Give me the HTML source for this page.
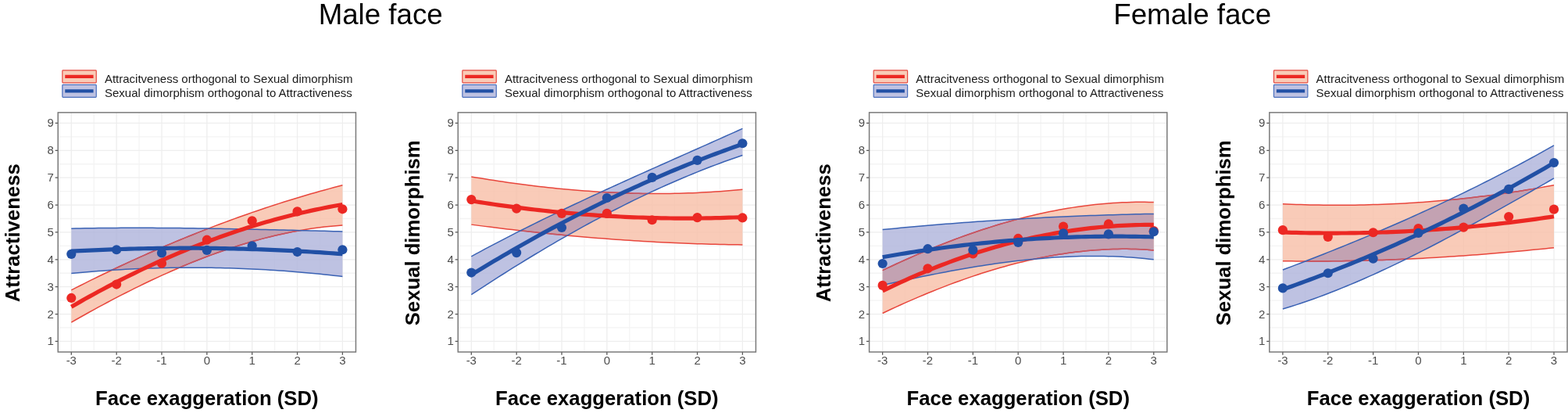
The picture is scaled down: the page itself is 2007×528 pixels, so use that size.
<!DOCTYPE html>
<html><head><meta charset="utf-8"><style>
html,body{margin:0;padding:0;background:#fff;}
body{width:2007px;height:528px;overflow:hidden;}
svg{display:block;filter:blur(0.45px);}
text{font-family:"Liberation Sans", Arial, sans-serif;}
.tk{font-size:15px;fill:#4d4d4d;}
.ax{font-size:25.7px;font-weight:bold;fill:#000;}
.lg{font-size:15px;fill:#1a1a1a;}
.tt{font-size:36.7px;fill:#000;}
</style></head><body>
<svg width="2007" height="528" viewBox="0 0 2007 528">
<rect width="2007" height="528" fill="#fff"/>
<text x="487.2" y="30.9" class="tt" text-anchor="middle">Male face</text>
<text x="1526.2" y="30.7" class="tt" text-anchor="middle">Female face</text>
<path d="M73.95 418.97H455.75M73.95 384.10H455.75M73.95 349.23H455.75M73.95 314.36H455.75M73.95 279.49H455.75M73.95 244.62H455.75M73.95 209.75H455.75M73.95 174.88H455.75M120.23 143.50V450.35M178.08 143.50V450.35M235.93 143.50V450.35M293.77 143.50V450.35M351.62 143.50V450.35M409.47 143.50V450.35" stroke="#f4f4f4" stroke-width="1.3" fill="none"/>
<path d="M73.95 436.40H455.75M73.95 401.53H455.75M73.95 366.66H455.75M73.95 331.79H455.75M73.95 296.93H455.75M73.95 262.06H455.75M73.95 227.19H455.75M73.95 192.32H455.75M73.95 157.45H455.75M91.30 143.50V450.35M149.15 143.50V450.35M207.00 143.50V450.35M264.85 143.50V450.35M322.70 143.50V450.35M380.55 143.50V450.35M438.40 143.50V450.35" stroke="#eeeeee" stroke-width="1.3" fill="none"/>
<clipPath id="cb0"><path d="M91.30 292.16L97.09 292.04L102.87 291.94L108.66 291.84L114.44 291.75L120.23 291.67L126.01 291.60L131.80 291.53L137.58 291.48L143.37 291.43L149.15 291.40L154.94 291.37L160.72 291.34L166.51 291.33L172.29 291.32L178.08 291.32L183.86 291.33L189.65 291.34L195.43 291.36L201.22 291.39L207.00 291.42L212.79 291.46L218.57 291.50L224.36 291.56L230.14 291.61L235.93 291.67L241.71 291.74L247.50 291.81L253.28 291.89L259.07 291.97L264.85 292.06L270.63 292.15L276.42 292.25L282.20 292.35L287.99 292.45L293.77 292.56L299.56 292.67L305.34 292.78L311.13 292.90L316.91 293.02L322.70 293.14L328.48 293.26L334.27 293.39L340.05 293.52L345.84 293.66L351.62 293.79L357.41 293.93L363.19 294.06L368.98 294.20L374.76 294.34L380.55 294.48L386.33 294.63L392.12 294.77L397.90 294.91L403.69 295.06L409.47 295.20L415.26 295.35L421.04 295.49L426.83 295.63L432.61 295.78L438.40 295.92L438.40 353.45L432.61 352.78L426.83 352.13L421.04 351.50L415.26 350.89L409.47 350.30L403.69 349.73L397.90 349.18L392.12 348.65L386.33 348.15L380.55 347.66L374.76 347.19L368.98 346.75L363.19 346.32L357.41 345.92L351.62 345.54L345.84 345.17L340.05 344.83L334.27 344.51L328.48 344.21L322.70 343.92L316.91 343.66L311.13 343.42L305.34 343.20L299.56 343.00L293.77 342.82L287.99 342.67L282.20 342.53L276.42 342.41L270.63 342.31L264.85 342.24L259.07 342.18L253.28 342.15L247.50 342.13L241.71 342.14L235.93 342.16L230.14 342.21L224.36 342.28L218.57 342.37L212.79 342.47L207.00 342.60L201.22 342.75L195.43 342.92L189.65 343.11L183.86 343.32L178.08 343.56L172.29 343.81L166.51 344.08L160.72 344.37L154.94 344.69L149.15 345.02L143.37 345.37L137.58 345.75L131.80 346.14L126.01 346.56L120.23 347.00L114.44 347.45L108.66 347.93L102.87 348.43L97.09 348.95L91.30 349.49Z"/></clipPath>
<path d="M91.30 292.16L97.09 292.04L102.87 291.94L108.66 291.84L114.44 291.75L120.23 291.67L126.01 291.60L131.80 291.53L137.58 291.48L143.37 291.43L149.15 291.40L154.94 291.37L160.72 291.34L166.51 291.33L172.29 291.32L178.08 291.32L183.86 291.33L189.65 291.34L195.43 291.36L201.22 291.39L207.00 291.42L212.79 291.46L218.57 291.50L224.36 291.56L230.14 291.61L235.93 291.67L241.71 291.74L247.50 291.81L253.28 291.89L259.07 291.97L264.85 292.06L270.63 292.15L276.42 292.25L282.20 292.35L287.99 292.45L293.77 292.56L299.56 292.67L305.34 292.78L311.13 292.90L316.91 293.02L322.70 293.14L328.48 293.26L334.27 293.39L340.05 293.52L345.84 293.66L351.62 293.79L357.41 293.93L363.19 294.06L368.98 294.20L374.76 294.34L380.55 294.48L386.33 294.63L392.12 294.77L397.90 294.91L403.69 295.06L409.47 295.20L415.26 295.35L421.04 295.49L426.83 295.63L432.61 295.78L438.40 295.92L438.40 353.45L432.61 352.78L426.83 352.13L421.04 351.50L415.26 350.89L409.47 350.30L403.69 349.73L397.90 349.18L392.12 348.65L386.33 348.15L380.55 347.66L374.76 347.19L368.98 346.75L363.19 346.32L357.41 345.92L351.62 345.54L345.84 345.17L340.05 344.83L334.27 344.51L328.48 344.21L322.70 343.92L316.91 343.66L311.13 343.42L305.34 343.20L299.56 343.00L293.77 342.82L287.99 342.67L282.20 342.53L276.42 342.41L270.63 342.31L264.85 342.24L259.07 342.18L253.28 342.15L247.50 342.13L241.71 342.14L235.93 342.16L230.14 342.21L224.36 342.28L218.57 342.37L212.79 342.47L207.00 342.60L201.22 342.75L195.43 342.92L189.65 343.11L183.86 343.32L178.08 343.56L172.29 343.81L166.51 344.08L160.72 344.37L154.94 344.69L149.15 345.02L143.37 345.37L137.58 345.75L131.80 346.14L126.01 346.56L120.23 347.00L114.44 347.45L108.66 347.93L102.87 348.43L97.09 348.95L91.30 349.49Z" fill="#aeb3db" fill-opacity="0.8"/>
<path d="M91.30 370.81L97.09 367.87L102.87 364.96L108.66 362.07L114.44 359.20L120.23 356.36L126.01 353.54L131.80 350.74L137.58 347.97L143.37 345.22L149.15 342.49L154.94 339.78L160.72 337.10L166.51 334.44L172.29 331.81L178.08 329.19L183.86 326.60L189.65 324.04L195.43 321.50L201.22 318.98L207.00 316.49L212.79 314.01L218.57 311.57L224.36 309.14L230.14 306.75L235.93 304.37L241.71 302.02L247.50 299.69L253.28 297.39L259.07 295.11L264.85 292.86L270.63 290.63L276.42 288.42L282.20 286.24L287.99 284.08L293.77 281.95L299.56 279.84L305.34 277.76L311.13 275.70L316.91 273.67L322.70 271.66L328.48 269.68L334.27 267.72L340.05 265.79L345.84 263.88L351.62 261.99L357.41 260.14L363.19 258.30L368.98 256.50L374.76 254.71L380.55 252.96L386.33 251.23L392.12 249.52L397.90 247.84L403.69 246.18L409.47 244.56L415.26 242.95L421.04 241.38L426.83 239.82L432.61 238.30L438.40 236.80L438.40 288.02L432.61 288.43L426.83 288.91L421.04 289.46L415.26 290.08L409.47 290.77L403.69 291.53L397.90 292.36L392.12 293.25L386.33 294.20L380.55 295.22L374.76 296.31L368.98 297.46L363.19 298.67L357.41 299.94L351.62 301.27L345.84 302.66L340.05 304.12L334.27 305.63L328.48 307.20L322.70 308.82L316.91 310.50L311.13 312.24L305.34 314.04L299.56 315.88L293.77 317.78L287.99 319.74L282.20 321.74L276.42 323.80L270.63 325.90L264.85 328.06L259.07 330.26L253.28 332.52L247.50 334.82L241.71 337.16L235.93 339.55L230.14 341.99L224.36 344.47L218.57 347.00L212.79 349.57L207.00 352.18L201.22 354.83L195.43 357.52L189.65 360.25L183.86 363.02L178.08 365.83L172.29 368.68L166.51 371.56L160.72 374.48L154.94 377.43L149.15 380.42L143.37 383.44L137.58 386.50L131.80 389.59L126.01 392.70L120.23 395.85L114.44 399.03L108.66 402.24L102.87 405.48L97.09 408.74L91.30 412.04Z" fill="#f8bea6" fill-opacity="0.8"/>
<path d="M91.30 370.81L97.09 367.87L102.87 364.96L108.66 362.07L114.44 359.20L120.23 356.36L126.01 353.54L131.80 350.74L137.58 347.97L143.37 345.22L149.15 342.49L154.94 339.78L160.72 337.10L166.51 334.44L172.29 331.81L178.08 329.19L183.86 326.60L189.65 324.04L195.43 321.50L201.22 318.98L207.00 316.49L212.79 314.01L218.57 311.57L224.36 309.14L230.14 306.75L235.93 304.37L241.71 302.02L247.50 299.69L253.28 297.39L259.07 295.11L264.85 292.86L270.63 290.63L276.42 288.42L282.20 286.24L287.99 284.08L293.77 281.95L299.56 279.84L305.34 277.76L311.13 275.70L316.91 273.67L322.70 271.66L328.48 269.68L334.27 267.72L340.05 265.79L345.84 263.88L351.62 261.99L357.41 260.14L363.19 258.30L368.98 256.50L374.76 254.71L380.55 252.96L386.33 251.23L392.12 249.52L397.90 247.84L403.69 246.18L409.47 244.56L415.26 242.95L421.04 241.38L426.83 239.82L432.61 238.30L438.40 236.80L438.40 288.02L432.61 288.43L426.83 288.91L421.04 289.46L415.26 290.08L409.47 290.77L403.69 291.53L397.90 292.36L392.12 293.25L386.33 294.20L380.55 295.22L374.76 296.31L368.98 297.46L363.19 298.67L357.41 299.94L351.62 301.27L345.84 302.66L340.05 304.12L334.27 305.63L328.48 307.20L322.70 308.82L316.91 310.50L311.13 312.24L305.34 314.04L299.56 315.88L293.77 317.78L287.99 319.74L282.20 321.74L276.42 323.80L270.63 325.90L264.85 328.06L259.07 330.26L253.28 332.52L247.50 334.82L241.71 337.16L235.93 339.55L230.14 341.99L224.36 344.47L218.57 347.00L212.79 349.57L207.00 352.18L201.22 354.83L195.43 357.52L189.65 360.25L183.86 363.02L178.08 365.83L172.29 368.68L166.51 371.56L160.72 374.48L154.94 377.43L149.15 380.42L143.37 383.44L137.58 386.50L131.80 389.59L126.01 392.70L120.23 395.85L114.44 399.03L108.66 402.24L102.87 405.48L97.09 408.74L91.30 412.04Z" fill="#b99bb1" fill-opacity="0.8" clip-path="url(#cb0)"/>
<path d="M91.30 370.81L97.09 367.87L102.87 364.96L108.66 362.07L114.44 359.20L120.23 356.36L126.01 353.54L131.80 350.74L137.58 347.97L143.37 345.22L149.15 342.49L154.94 339.78L160.72 337.10L166.51 334.44L172.29 331.81L178.08 329.19L183.86 326.60L189.65 324.04L195.43 321.50L201.22 318.98L207.00 316.49L212.79 314.01L218.57 311.57L224.36 309.14L230.14 306.75L235.93 304.37L241.71 302.02L247.50 299.69L253.28 297.39L259.07 295.11L264.85 292.86L270.63 290.63L276.42 288.42L282.20 286.24L287.99 284.08L293.77 281.95L299.56 279.84L305.34 277.76L311.13 275.70L316.91 273.67L322.70 271.66L328.48 269.68L334.27 267.72L340.05 265.79L345.84 263.88L351.62 261.99L357.41 260.14L363.19 258.30L368.98 256.50L374.76 254.71L380.55 252.96L386.33 251.23L392.12 249.52L397.90 247.84L403.69 246.18L409.47 244.56L415.26 242.95L421.04 241.38L426.83 239.82L432.61 238.30L438.40 236.80M91.30 412.04L97.09 408.74L102.87 405.48L108.66 402.24L114.44 399.03L120.23 395.85L126.01 392.70L131.80 389.59L137.58 386.50L143.37 383.44L149.15 380.42L154.94 377.43L160.72 374.48L166.51 371.56L172.29 368.68L178.08 365.83L183.86 363.02L189.65 360.25L195.43 357.52L201.22 354.83L207.00 352.18L212.79 349.57L218.57 347.00L224.36 344.47L230.14 341.99L235.93 339.55L241.71 337.16L247.50 334.82L253.28 332.52L259.07 330.26L264.85 328.06L270.63 325.90L276.42 323.80L282.20 321.74L287.99 319.74L293.77 317.78L299.56 315.88L305.34 314.04L311.13 312.24L316.91 310.50L322.70 308.82L328.48 307.20L334.27 305.63L340.05 304.12L345.84 302.66L351.62 301.27L357.41 299.94L363.19 298.67L368.98 297.46L374.76 296.31L380.55 295.22L386.33 294.20L392.12 293.25L397.90 292.36L403.69 291.53L409.47 290.77L415.26 290.08L421.04 289.46L426.83 288.91L432.61 288.43L438.40 288.02" stroke="#e8463c" stroke-width="1.5" fill="none"/>
<path d="M91.30 370.81L97.09 367.87L102.87 364.96L108.66 362.07L114.44 359.20L120.23 356.36L126.01 353.54L131.80 350.74L137.58 347.97L143.37 345.22L149.15 342.49L154.94 339.78L160.72 337.10L166.51 334.44L172.29 331.81L178.08 329.19L183.86 326.60L189.65 324.04L195.43 321.50L201.22 318.98L207.00 316.49L212.79 314.01L218.57 311.57L224.36 309.14L230.14 306.75L235.93 304.37L241.71 302.02L247.50 299.69L253.28 297.39L259.07 295.11L264.85 292.86L270.63 290.63L276.42 288.42L282.20 286.24L287.99 284.08L293.77 281.95L299.56 279.84L305.34 277.76L311.13 275.70L316.91 273.67L322.70 271.66L328.48 269.68L334.27 267.72L340.05 265.79L345.84 263.88L351.62 261.99L357.41 260.14L363.19 258.30L368.98 256.50L374.76 254.71L380.55 252.96L386.33 251.23L392.12 249.52L397.90 247.84L403.69 246.18L409.47 244.56L415.26 242.95L421.04 241.38L426.83 239.82L432.61 238.30L438.40 236.80M91.30 412.04L97.09 408.74L102.87 405.48L108.66 402.24L114.44 399.03L120.23 395.85L126.01 392.70L131.80 389.59L137.58 386.50L143.37 383.44L149.15 380.42L154.94 377.43L160.72 374.48L166.51 371.56L172.29 368.68L178.08 365.83L183.86 363.02L189.65 360.25L195.43 357.52L201.22 354.83L207.00 352.18L212.79 349.57L218.57 347.00L224.36 344.47L230.14 341.99L235.93 339.55L241.71 337.16L247.50 334.82L253.28 332.52L259.07 330.26L264.85 328.06L270.63 325.90L276.42 323.80L282.20 321.74L287.99 319.74L293.77 317.78L299.56 315.88L305.34 314.04L311.13 312.24L316.91 310.50L322.70 308.82L328.48 307.20L334.27 305.63L340.05 304.12L345.84 302.66L351.62 301.27L357.41 299.94L363.19 298.67L368.98 297.46L374.76 296.31L380.55 295.22L386.33 294.20L392.12 293.25L397.90 292.36L403.69 291.53L409.47 290.77L415.26 290.08L421.04 289.46L426.83 288.91L432.61 288.43L438.40 288.02" stroke="#c25666" stroke-width="1.5" fill="none" clip-path="url(#cb0)"/>
<path d="M91.30 292.16L97.09 292.04L102.87 291.94L108.66 291.84L114.44 291.75L120.23 291.67L126.01 291.60L131.80 291.53L137.58 291.48L143.37 291.43L149.15 291.40L154.94 291.37L160.72 291.34L166.51 291.33L172.29 291.32L178.08 291.32L183.86 291.33L189.65 291.34L195.43 291.36L201.22 291.39L207.00 291.42L212.79 291.46L218.57 291.50L224.36 291.56L230.14 291.61L235.93 291.67L241.71 291.74L247.50 291.81L253.28 291.89L259.07 291.97L264.85 292.06L270.63 292.15L276.42 292.25L282.20 292.35L287.99 292.45L293.77 292.56L299.56 292.67L305.34 292.78L311.13 292.90L316.91 293.02L322.70 293.14L328.48 293.26L334.27 293.39L340.05 293.52L345.84 293.66L351.62 293.79L357.41 293.93L363.19 294.06L368.98 294.20L374.76 294.34L380.55 294.48L386.33 294.63L392.12 294.77L397.90 294.91L403.69 295.06L409.47 295.20L415.26 295.35L421.04 295.49L426.83 295.63L432.61 295.78L438.40 295.92M91.30 349.49L97.09 348.95L102.87 348.43L108.66 347.93L114.44 347.45L120.23 347.00L126.01 346.56L131.80 346.14L137.58 345.75L143.37 345.37L149.15 345.02L154.94 344.69L160.72 344.37L166.51 344.08L172.29 343.81L178.08 343.56L183.86 343.32L189.65 343.11L195.43 342.92L201.22 342.75L207.00 342.60L212.79 342.47L218.57 342.37L224.36 342.28L230.14 342.21L235.93 342.16L241.71 342.14L247.50 342.13L253.28 342.15L259.07 342.18L264.85 342.24L270.63 342.31L276.42 342.41L282.20 342.53L287.99 342.67L293.77 342.82L299.56 343.00L305.34 343.20L311.13 343.42L316.91 343.66L322.70 343.92L328.48 344.21L334.27 344.51L340.05 344.83L345.84 345.17L351.62 345.54L357.41 345.92L363.19 346.32L368.98 346.75L374.76 347.19L380.55 347.66L386.33 348.15L392.12 348.65L397.90 349.18L403.69 349.73L409.47 350.30L415.26 350.89L421.04 351.50L426.83 352.13L432.61 352.78L438.40 353.45" stroke="#3a62b4" stroke-width="1.5" fill="none"/>
<path d="M91.30 392.28L97.09 388.93L102.87 385.63L108.66 382.36L114.44 379.14L120.23 375.95L126.01 372.80L131.80 369.70L137.58 366.63L143.37 363.60L149.15 360.61L154.94 357.66L160.72 354.75L166.51 351.88L172.29 349.05L178.08 346.26L183.86 343.51L189.65 340.79L195.43 338.12L201.22 335.48L207.00 332.89L212.79 330.33L218.57 327.82L224.36 325.34L230.14 322.91L235.93 320.51L241.71 318.15L247.50 315.83L253.28 313.55L259.07 311.31L264.85 309.11L270.63 306.95L276.42 304.83L282.20 302.75L287.99 300.71L293.77 298.70L299.56 296.74L305.34 294.81L311.13 292.93L316.91 291.08L322.70 289.28L328.48 287.51L334.27 285.79L340.05 284.10L345.84 282.45L351.62 280.84L357.41 279.27L363.19 277.74L368.98 276.25L374.76 274.80L380.55 273.39L386.33 272.02L392.12 270.68L397.90 269.39L403.69 268.14L409.47 266.92L415.26 265.75L421.04 264.61L426.83 263.52L432.61 262.46L438.40 261.44" stroke="#ec2823" stroke-width="5.2" fill="none"/>
<circle cx="91.30" cy="380.96" r="6.1" fill="#ec2823"/>
<circle cx="149.15" cy="363.53" r="6.1" fill="#ec2823"/>
<circle cx="207.00" cy="336.68" r="6.1" fill="#ec2823"/>
<circle cx="264.85" cy="306.69" r="6.1" fill="#ec2823"/>
<circle cx="322.70" cy="282.28" r="6.1" fill="#ec2823"/>
<circle cx="380.55" cy="270.42" r="6.1" fill="#ec2823"/>
<circle cx="438.40" cy="267.29" r="6.1" fill="#ec2823"/>
<path d="M91.30 321.22L97.09 320.91L102.87 320.61L108.66 320.32L114.44 320.05L120.23 319.79L126.01 319.54L131.80 319.30L137.58 319.08L143.37 318.87L149.15 318.67L154.94 318.48L160.72 318.31L166.51 318.15L172.29 318.00L178.08 317.86L183.86 317.74L189.65 317.63L195.43 317.53L201.22 317.45L207.00 317.37L212.79 317.31L218.57 317.26L224.36 317.23L230.14 317.21L235.93 317.20L241.71 317.20L247.50 317.21L253.28 317.24L259.07 317.28L264.85 317.33L270.63 317.40L276.42 317.47L282.20 317.56L287.99 317.67L293.77 317.78L299.56 317.91L305.34 318.05L311.13 318.20L316.91 318.37L322.70 318.54L328.48 318.73L334.27 318.94L340.05 319.15L345.84 319.38L351.62 319.62L357.41 319.87L363.19 320.14L368.98 320.42L374.76 320.71L380.55 321.01L386.33 321.33L392.12 321.65L397.90 321.99L403.69 322.35L409.47 322.71L415.26 323.09L421.04 323.48L426.83 323.88L432.61 324.30L438.40 324.73" stroke="#2150a5" stroke-width="5.2" fill="none"/>
<circle cx="91.30" cy="324.82" r="6.1" fill="#2150a5"/>
<circle cx="149.15" cy="319.24" r="6.1" fill="#2150a5"/>
<circle cx="207.00" cy="323.43" r="6.1" fill="#2150a5"/>
<circle cx="264.85" cy="319.94" r="6.1" fill="#2150a5"/>
<circle cx="322.70" cy="314.36" r="6.1" fill="#2150a5"/>
<circle cx="380.55" cy="322.03" r="6.1" fill="#2150a5"/>
<circle cx="438.40" cy="319.24" r="6.1" fill="#2150a5"/>
<rect x="74.25" y="143.85" width="381.20" height="306.15" fill="none" stroke="#7a7a7a" stroke-width="1.5"/>
<path d="M70.65 436.40H73.95M70.65 401.53H73.95M70.65 366.66H73.95M70.65 331.79H73.95M70.65 296.93H73.95M70.65 262.06H73.95M70.65 227.19H73.95M70.65 192.32H73.95M70.65 157.45H73.95M91.30 450.35V453.65M149.15 450.35V453.65M207.00 450.35V453.65M264.85 450.35V453.65M322.70 450.35V453.65M380.55 450.35V453.65M438.40 450.35V453.65" stroke="#555" stroke-width="1.3" fill="none"/>
<text x="68.75" y="441.40" class="tk" text-anchor="end">1</text>
<text x="68.75" y="406.53" class="tk" text-anchor="end">2</text>
<text x="68.75" y="371.66" class="tk" text-anchor="end">3</text>
<text x="68.75" y="336.79" class="tk" text-anchor="end">4</text>
<text x="68.75" y="301.93" class="tk" text-anchor="end">5</text>
<text x="68.75" y="267.06" class="tk" text-anchor="end">6</text>
<text x="68.75" y="232.19" class="tk" text-anchor="end">7</text>
<text x="68.75" y="197.32" class="tk" text-anchor="end">8</text>
<text x="68.75" y="162.45" class="tk" text-anchor="end">9</text>
<text x="91.30" y="466.2" class="tk" text-anchor="middle">-3</text>
<text x="149.15" y="466.2" class="tk" text-anchor="middle">-2</text>
<text x="207.00" y="466.2" class="tk" text-anchor="middle">-1</text>
<text x="264.85" y="466.2" class="tk" text-anchor="middle">0</text>
<text x="322.70" y="466.2" class="tk" text-anchor="middle">1</text>
<text x="380.55" y="466.2" class="tk" text-anchor="middle">2</text>
<text x="438.40" y="466.2" class="tk" text-anchor="middle">3</text>
<text x="264.85" y="518.2" class="ax" text-anchor="middle">Face exaggeration (SD)</text>
<text transform="translate(24.55 297.82) rotate(-90)" class="ax" text-anchor="middle">Attractiveness</text>
<rect x="79.85" y="89.90" width="43.4" height="16.0" fill="#f9cbb7" stroke="#e64a40" stroke-width="1.2" rx="0.8"/>
<path d="M83.25 97.90H119.55" stroke="#ec2823" stroke-width="4.2"/>
<text x="133.95" y="105.60" class="lg">Attracitveness orthogonal to Sexual dimorphism</text>
<rect x="79.85" y="108.40" width="43.4" height="16.0" fill="#bec2e2" stroke="#4a6fbd" stroke-width="1.2" rx="0.8"/>
<path d="M83.25 116.40H119.55" stroke="#2150a5" stroke-width="4.2"/>
<text x="133.95" y="124.30" class="lg">Sexual dimorphism orthogonal to Attractiveness</text>
<path d="M585.95 418.97H967.75M585.95 384.10H967.75M585.95 349.23H967.75M585.95 314.36H967.75M585.95 279.49H967.75M585.95 244.62H967.75M585.95 209.75H967.75M585.95 174.88H967.75M632.23 143.50V450.35M690.08 143.50V450.35M747.93 143.50V450.35M805.77 143.50V450.35M863.62 143.50V450.35M921.47 143.50V450.35" stroke="#f4f4f4" stroke-width="1.3" fill="none"/>
<path d="M585.95 436.40H967.75M585.95 401.53H967.75M585.95 366.66H967.75M585.95 331.79H967.75M585.95 296.93H967.75M585.95 262.06H967.75M585.95 227.19H967.75M585.95 192.32H967.75M585.95 157.45H967.75M603.30 143.50V450.35M661.15 143.50V450.35M719.00 143.50V450.35M776.85 143.50V450.35M834.70 143.50V450.35M892.55 143.50V450.35M950.40 143.50V450.35" stroke="#eeeeee" stroke-width="1.3" fill="none"/>
<clipPath id="cb1"><path d="M603.30 327.79L609.09 324.65L614.87 321.54L620.66 318.45L626.44 315.38L632.23 312.33L638.01 309.31L643.80 306.31L649.58 303.32L655.37 300.36L661.15 297.42L666.94 294.50L672.72 291.60L678.51 288.72L684.29 285.85L690.08 283.00L695.86 280.17L701.65 277.36L707.43 274.56L713.22 271.77L719.00 269.00L724.79 266.25L730.57 263.51L736.36 260.78L742.14 258.07L747.93 255.36L753.71 252.67L759.50 249.99L765.28 247.32L771.07 244.66L776.85 242.01L782.63 239.37L788.42 236.74L794.20 234.12L799.99 231.50L805.77 228.89L811.56 226.29L817.34 223.69L823.13 221.10L828.91 218.51L834.70 215.93L840.48 213.35L846.27 210.77L852.05 208.20L857.84 205.63L863.62 203.06L869.41 200.49L875.19 197.93L880.98 195.36L886.76 192.79L892.55 190.22L898.33 187.66L904.12 185.08L909.90 182.51L915.69 179.93L921.47 177.35L927.26 174.77L933.04 172.18L938.83 169.59L944.61 166.99L950.40 164.38L950.40 198.49L944.61 200.45L938.83 202.45L933.04 204.49L927.26 206.57L921.47 208.69L915.69 210.84L909.90 213.04L904.12 215.27L898.33 217.54L892.55 219.85L886.76 222.19L880.98 224.57L875.19 226.99L869.41 229.45L863.62 231.94L857.84 234.47L852.05 237.03L846.27 239.63L840.48 242.26L834.70 244.93L828.91 247.63L823.13 250.37L817.34 253.14L811.56 255.94L805.77 258.78L799.99 261.65L794.20 264.55L788.42 267.48L782.63 270.45L776.85 273.45L771.07 276.48L765.28 279.54L759.50 282.63L753.71 285.75L747.93 288.90L742.14 292.09L736.36 295.30L730.57 298.54L724.79 301.81L719.00 305.11L713.22 308.44L707.43 311.80L701.65 315.18L695.86 318.59L690.08 322.03L684.29 325.50L678.51 328.99L672.72 332.51L666.94 336.06L661.15 339.63L655.37 343.23L649.58 346.85L643.80 350.50L638.01 354.17L632.23 357.87L626.44 361.59L620.66 365.34L614.87 369.11L609.09 372.90L603.30 376.72Z"/></clipPath>
<path d="M603.30 327.79L609.09 324.65L614.87 321.54L620.66 318.45L626.44 315.38L632.23 312.33L638.01 309.31L643.80 306.31L649.58 303.32L655.37 300.36L661.15 297.42L666.94 294.50L672.72 291.60L678.51 288.72L684.29 285.85L690.08 283.00L695.86 280.17L701.65 277.36L707.43 274.56L713.22 271.77L719.00 269.00L724.79 266.25L730.57 263.51L736.36 260.78L742.14 258.07L747.93 255.36L753.71 252.67L759.50 249.99L765.28 247.32L771.07 244.66L776.85 242.01L782.63 239.37L788.42 236.74L794.20 234.12L799.99 231.50L805.77 228.89L811.56 226.29L817.34 223.69L823.13 221.10L828.91 218.51L834.70 215.93L840.48 213.35L846.27 210.77L852.05 208.20L857.84 205.63L863.62 203.06L869.41 200.49L875.19 197.93L880.98 195.36L886.76 192.79L892.55 190.22L898.33 187.66L904.12 185.08L909.90 182.51L915.69 179.93L921.47 177.35L927.26 174.77L933.04 172.18L938.83 169.59L944.61 166.99L950.40 164.38L950.40 198.49L944.61 200.45L938.83 202.45L933.04 204.49L927.26 206.57L921.47 208.69L915.69 210.84L909.90 213.04L904.12 215.27L898.33 217.54L892.55 219.85L886.76 222.19L880.98 224.57L875.19 226.99L869.41 229.45L863.62 231.94L857.84 234.47L852.05 237.03L846.27 239.63L840.48 242.26L834.70 244.93L828.91 247.63L823.13 250.37L817.34 253.14L811.56 255.94L805.77 258.78L799.99 261.65L794.20 264.55L788.42 267.48L782.63 270.45L776.85 273.45L771.07 276.48L765.28 279.54L759.50 282.63L753.71 285.75L747.93 288.90L742.14 292.09L736.36 295.30L730.57 298.54L724.79 301.81L719.00 305.11L713.22 308.44L707.43 311.80L701.65 315.18L695.86 318.59L690.08 322.03L684.29 325.50L678.51 328.99L672.72 332.51L666.94 336.06L661.15 339.63L655.37 343.23L649.58 346.85L643.80 350.50L638.01 354.17L632.23 357.87L626.44 361.59L620.66 365.34L614.87 369.11L609.09 372.90L603.30 376.72Z" fill="#aeb3db" fill-opacity="0.8"/>
<path d="M603.30 225.93L609.09 226.91L614.87 227.86L620.66 228.80L626.44 229.71L632.23 230.61L638.01 231.48L643.80 232.34L649.58 233.17L655.37 233.98L661.15 234.77L666.94 235.54L672.72 236.29L678.51 237.02L684.29 237.72L690.08 238.41L695.86 239.07L701.65 239.70L707.43 240.32L713.22 240.91L719.00 241.47L724.79 242.02L730.57 242.54L736.36 243.03L742.14 243.50L747.93 243.95L753.71 244.37L759.50 244.77L765.28 245.14L771.07 245.48L776.85 245.80L782.63 246.09L788.42 246.36L794.20 246.60L799.99 246.81L805.77 247.00L811.56 247.16L817.34 247.29L823.13 247.39L828.91 247.47L834.70 247.52L840.48 247.54L846.27 247.53L852.05 247.49L857.84 247.42L863.62 247.33L869.41 247.20L875.19 247.05L880.98 246.86L886.76 246.64L892.55 246.40L898.33 246.12L904.12 245.81L909.90 245.47L915.69 245.10L921.47 244.70L927.26 244.27L933.04 243.80L938.83 243.30L944.61 242.77L950.40 242.21L950.40 312.93L944.61 312.86L938.83 312.78L933.04 312.69L927.26 312.58L921.47 312.46L915.69 312.32L909.90 312.17L904.12 312.01L898.33 311.84L892.55 311.65L886.76 311.45L880.98 311.24L875.19 311.02L869.41 310.78L863.62 310.53L857.84 310.26L852.05 309.99L846.27 309.70L840.48 309.40L834.70 309.09L828.91 308.76L823.13 308.43L817.34 308.08L811.56 307.71L805.77 307.34L799.99 306.96L794.20 306.56L788.42 306.15L782.63 305.73L776.85 305.29L771.07 304.85L765.28 304.39L759.50 303.92L753.71 303.44L747.93 302.95L742.14 302.45L736.36 301.94L730.57 301.41L724.79 300.88L719.00 300.33L713.22 299.77L707.43 299.20L701.65 298.62L695.86 298.03L690.08 297.43L684.29 296.81L678.51 296.19L672.72 295.55L666.94 294.91L661.15 294.25L655.37 293.59L649.58 292.91L643.80 292.22L638.01 291.52L632.23 290.81L626.44 290.10L620.66 289.37L614.87 288.63L609.09 287.88L603.30 287.12Z" fill="#f8bea6" fill-opacity="0.8"/>
<path d="M603.30 225.93L609.09 226.91L614.87 227.86L620.66 228.80L626.44 229.71L632.23 230.61L638.01 231.48L643.80 232.34L649.58 233.17L655.37 233.98L661.15 234.77L666.94 235.54L672.72 236.29L678.51 237.02L684.29 237.72L690.08 238.41L695.86 239.07L701.65 239.70L707.43 240.32L713.22 240.91L719.00 241.47L724.79 242.02L730.57 242.54L736.36 243.03L742.14 243.50L747.93 243.95L753.71 244.37L759.50 244.77L765.28 245.14L771.07 245.48L776.85 245.80L782.63 246.09L788.42 246.36L794.20 246.60L799.99 246.81L805.77 247.00L811.56 247.16L817.34 247.29L823.13 247.39L828.91 247.47L834.70 247.52L840.48 247.54L846.27 247.53L852.05 247.49L857.84 247.42L863.62 247.33L869.41 247.20L875.19 247.05L880.98 246.86L886.76 246.64L892.55 246.40L898.33 246.12L904.12 245.81L909.90 245.47L915.69 245.10L921.47 244.70L927.26 244.27L933.04 243.80L938.83 243.30L944.61 242.77L950.40 242.21L950.40 312.93L944.61 312.86L938.83 312.78L933.04 312.69L927.26 312.58L921.47 312.46L915.69 312.32L909.90 312.17L904.12 312.01L898.33 311.84L892.55 311.65L886.76 311.45L880.98 311.24L875.19 311.02L869.41 310.78L863.62 310.53L857.84 310.26L852.05 309.99L846.27 309.70L840.48 309.40L834.70 309.09L828.91 308.76L823.13 308.43L817.34 308.08L811.56 307.71L805.77 307.34L799.99 306.96L794.20 306.56L788.42 306.15L782.63 305.73L776.85 305.29L771.07 304.85L765.28 304.39L759.50 303.92L753.71 303.44L747.93 302.95L742.14 302.45L736.36 301.94L730.57 301.41L724.79 300.88L719.00 300.33L713.22 299.77L707.43 299.20L701.65 298.62L695.86 298.03L690.08 297.43L684.29 296.81L678.51 296.19L672.72 295.55L666.94 294.91L661.15 294.25L655.37 293.59L649.58 292.91L643.80 292.22L638.01 291.52L632.23 290.81L626.44 290.10L620.66 289.37L614.87 288.63L609.09 287.88L603.30 287.12Z" fill="#b99bb1" fill-opacity="0.8" clip-path="url(#cb1)"/>
<path d="M603.30 225.93L609.09 226.91L614.87 227.86L620.66 228.80L626.44 229.71L632.23 230.61L638.01 231.48L643.80 232.34L649.58 233.17L655.37 233.98L661.15 234.77L666.94 235.54L672.72 236.29L678.51 237.02L684.29 237.72L690.08 238.41L695.86 239.07L701.65 239.70L707.43 240.32L713.22 240.91L719.00 241.47L724.79 242.02L730.57 242.54L736.36 243.03L742.14 243.50L747.93 243.95L753.71 244.37L759.50 244.77L765.28 245.14L771.07 245.48L776.85 245.80L782.63 246.09L788.42 246.36L794.20 246.60L799.99 246.81L805.77 247.00L811.56 247.16L817.34 247.29L823.13 247.39L828.91 247.47L834.70 247.52L840.48 247.54L846.27 247.53L852.05 247.49L857.84 247.42L863.62 247.33L869.41 247.20L875.19 247.05L880.98 246.86L886.76 246.64L892.55 246.40L898.33 246.12L904.12 245.81L909.90 245.47L915.69 245.10L921.47 244.70L927.26 244.27L933.04 243.80L938.83 243.30L944.61 242.77L950.40 242.21M603.30 287.12L609.09 287.88L614.87 288.63L620.66 289.37L626.44 290.10L632.23 290.81L638.01 291.52L643.80 292.22L649.58 292.91L655.37 293.59L661.15 294.25L666.94 294.91L672.72 295.55L678.51 296.19L684.29 296.81L690.08 297.43L695.86 298.03L701.65 298.62L707.43 299.20L713.22 299.77L719.00 300.33L724.79 300.88L730.57 301.41L736.36 301.94L742.14 302.45L747.93 302.95L753.71 303.44L759.50 303.92L765.28 304.39L771.07 304.85L776.85 305.29L782.63 305.73L788.42 306.15L794.20 306.56L799.99 306.96L805.77 307.34L811.56 307.71L817.34 308.08L823.13 308.43L828.91 308.76L834.70 309.09L840.48 309.40L846.27 309.70L852.05 309.99L857.84 310.26L863.62 310.53L869.41 310.78L875.19 311.02L880.98 311.24L886.76 311.45L892.55 311.65L898.33 311.84L904.12 312.01L909.90 312.17L915.69 312.32L921.47 312.46L927.26 312.58L933.04 312.69L938.83 312.78L944.61 312.86L950.40 312.93" stroke="#e8463c" stroke-width="1.5" fill="none"/>
<path d="M603.30 225.93L609.09 226.91L614.87 227.86L620.66 228.80L626.44 229.71L632.23 230.61L638.01 231.48L643.80 232.34L649.58 233.17L655.37 233.98L661.15 234.77L666.94 235.54L672.72 236.29L678.51 237.02L684.29 237.72L690.08 238.41L695.86 239.07L701.65 239.70L707.43 240.32L713.22 240.91L719.00 241.47L724.79 242.02L730.57 242.54L736.36 243.03L742.14 243.50L747.93 243.95L753.71 244.37L759.50 244.77L765.28 245.14L771.07 245.48L776.85 245.80L782.63 246.09L788.42 246.36L794.20 246.60L799.99 246.81L805.77 247.00L811.56 247.16L817.34 247.29L823.13 247.39L828.91 247.47L834.70 247.52L840.48 247.54L846.27 247.53L852.05 247.49L857.84 247.42L863.62 247.33L869.41 247.20L875.19 247.05L880.98 246.86L886.76 246.64L892.55 246.40L898.33 246.12L904.12 245.81L909.90 245.47L915.69 245.10L921.47 244.70L927.26 244.27L933.04 243.80L938.83 243.30L944.61 242.77L950.40 242.21M603.30 287.12L609.09 287.88L614.87 288.63L620.66 289.37L626.44 290.10L632.23 290.81L638.01 291.52L643.80 292.22L649.58 292.91L655.37 293.59L661.15 294.25L666.94 294.91L672.72 295.55L678.51 296.19L684.29 296.81L690.08 297.43L695.86 298.03L701.65 298.62L707.43 299.20L713.22 299.77L719.00 300.33L724.79 300.88L730.57 301.41L736.36 301.94L742.14 302.45L747.93 302.95L753.71 303.44L759.50 303.92L765.28 304.39L771.07 304.85L776.85 305.29L782.63 305.73L788.42 306.15L794.20 306.56L799.99 306.96L805.77 307.34L811.56 307.71L817.34 308.08L823.13 308.43L828.91 308.76L834.70 309.09L840.48 309.40L846.27 309.70L852.05 309.99L857.84 310.26L863.62 310.53L869.41 310.78L875.19 311.02L880.98 311.24L886.76 311.45L892.55 311.65L898.33 311.84L904.12 312.01L909.90 312.17L915.69 312.32L921.47 312.46L927.26 312.58L933.04 312.69L938.83 312.78L944.61 312.86L950.40 312.93" stroke="#c25666" stroke-width="1.5" fill="none" clip-path="url(#cb1)"/>
<path d="M603.30 327.79L609.09 324.65L614.87 321.54L620.66 318.45L626.44 315.38L632.23 312.33L638.01 309.31L643.80 306.31L649.58 303.32L655.37 300.36L661.15 297.42L666.94 294.50L672.72 291.60L678.51 288.72L684.29 285.85L690.08 283.00L695.86 280.17L701.65 277.36L707.43 274.56L713.22 271.77L719.00 269.00L724.79 266.25L730.57 263.51L736.36 260.78L742.14 258.07L747.93 255.36L753.71 252.67L759.50 249.99L765.28 247.32L771.07 244.66L776.85 242.01L782.63 239.37L788.42 236.74L794.20 234.12L799.99 231.50L805.77 228.89L811.56 226.29L817.34 223.69L823.13 221.10L828.91 218.51L834.70 215.93L840.48 213.35L846.27 210.77L852.05 208.20L857.84 205.63L863.62 203.06L869.41 200.49L875.19 197.93L880.98 195.36L886.76 192.79L892.55 190.22L898.33 187.66L904.12 185.08L909.90 182.51L915.69 179.93L921.47 177.35L927.26 174.77L933.04 172.18L938.83 169.59L944.61 166.99L950.40 164.38M603.30 376.72L609.09 372.90L614.87 369.11L620.66 365.34L626.44 361.59L632.23 357.87L638.01 354.17L643.80 350.50L649.58 346.85L655.37 343.23L661.15 339.63L666.94 336.06L672.72 332.51L678.51 328.99L684.29 325.50L690.08 322.03L695.86 318.59L701.65 315.18L707.43 311.80L713.22 308.44L719.00 305.11L724.79 301.81L730.57 298.54L736.36 295.30L742.14 292.09L747.93 288.90L753.71 285.75L759.50 282.63L765.28 279.54L771.07 276.48L776.85 273.45L782.63 270.45L788.42 267.48L794.20 264.55L799.99 261.65L805.77 258.78L811.56 255.94L817.34 253.14L823.13 250.37L828.91 247.63L834.70 244.93L840.48 242.26L846.27 239.63L852.05 237.03L857.84 234.47L863.62 231.94L869.41 229.45L875.19 226.99L880.98 224.57L886.76 222.19L892.55 219.85L898.33 217.54L904.12 215.27L909.90 213.04L915.69 210.84L921.47 208.69L927.26 206.57L933.04 204.49L938.83 202.45L944.61 200.45L950.40 198.49" stroke="#3a62b4" stroke-width="1.5" fill="none"/>
<path d="M603.30 256.79L609.09 257.72L614.87 258.63L620.66 259.52L626.44 260.39L632.23 261.24L638.01 262.07L643.80 262.88L649.58 263.67L655.37 264.44L661.15 265.19L666.94 265.93L672.72 266.64L678.51 267.33L684.29 268.00L690.08 268.65L695.86 269.29L701.65 269.90L707.43 270.49L713.22 271.07L719.00 271.62L724.79 272.15L730.57 272.67L736.36 273.16L742.14 273.64L747.93 274.09L753.71 274.53L759.50 274.94L765.28 275.34L771.07 275.71L776.85 276.07L782.63 276.41L788.42 276.72L794.20 277.02L799.99 277.30L805.77 277.55L811.56 277.79L817.34 278.01L823.13 278.21L828.91 278.39L834.70 278.54L840.48 278.68L846.27 278.80L852.05 278.90L857.84 278.98L863.62 279.04L869.41 279.08L875.19 279.10L880.98 279.10L886.76 279.08L892.55 279.04L898.33 278.98L904.12 278.90L909.90 278.81L915.69 278.69L921.47 278.55L927.26 278.39L933.04 278.22L938.83 278.02L944.61 277.80L950.40 277.56" stroke="#ec2823" stroke-width="5.2" fill="none"/>
<circle cx="603.30" cy="255.08" r="6.1" fill="#ec2823"/>
<circle cx="661.15" cy="266.59" r="6.1" fill="#ec2823"/>
<circle cx="719.00" cy="272.87" r="6.1" fill="#ec2823"/>
<circle cx="776.85" cy="272.87" r="6.1" fill="#ec2823"/>
<circle cx="834.70" cy="281.23" r="6.1" fill="#ec2823"/>
<circle cx="892.55" cy="278.10" r="6.1" fill="#ec2823"/>
<circle cx="950.40" cy="278.44" r="6.1" fill="#ec2823"/>
<path d="M603.30 351.32L609.09 347.77L614.87 344.25L620.66 340.75L626.44 337.28L632.23 333.84L638.01 330.42L643.80 327.02L649.58 323.66L655.37 320.32L661.15 317.00L666.94 313.71L672.72 310.45L678.51 307.21L684.29 304.00L690.08 300.81L695.86 297.65L701.65 294.52L707.43 291.41L713.22 288.33L719.00 285.27L724.79 282.24L730.57 279.23L736.36 276.25L742.14 273.30L747.93 270.37L753.71 267.47L759.50 264.60L765.28 261.75L771.07 258.93L776.85 256.13L782.63 253.36L788.42 250.61L794.20 247.89L799.99 245.20L805.77 242.53L811.56 239.89L817.34 237.27L823.13 234.68L828.91 232.12L834.70 229.58L840.48 227.06L846.27 224.58L852.05 222.12L857.84 219.68L863.62 217.27L869.41 214.89L875.19 212.53L880.98 210.20L886.76 207.90L892.55 205.62L898.33 203.36L904.12 201.14L909.90 198.93L915.69 196.76L921.47 194.61L927.26 192.48L933.04 190.39L938.83 188.31L944.61 186.27L950.40 184.25" stroke="#2150a5" stroke-width="5.2" fill="none"/>
<circle cx="603.30" cy="348.53" r="6.1" fill="#2150a5"/>
<circle cx="661.15" cy="323.08" r="6.1" fill="#2150a5"/>
<circle cx="719.00" cy="291.00" r="6.1" fill="#2150a5"/>
<circle cx="776.85" cy="252.99" r="6.1" fill="#2150a5"/>
<circle cx="834.70" cy="226.84" r="6.1" fill="#2150a5"/>
<circle cx="892.55" cy="204.87" r="6.1" fill="#2150a5"/>
<circle cx="950.40" cy="183.25" r="6.1" fill="#2150a5"/>
<rect x="586.25" y="143.85" width="381.20" height="306.15" fill="none" stroke="#7a7a7a" stroke-width="1.5"/>
<path d="M582.65 436.40H585.95M582.65 401.53H585.95M582.65 366.66H585.95M582.65 331.79H585.95M582.65 296.93H585.95M582.65 262.06H585.95M582.65 227.19H585.95M582.65 192.32H585.95M582.65 157.45H585.95M603.30 450.35V453.65M661.15 450.35V453.65M719.00 450.35V453.65M776.85 450.35V453.65M834.70 450.35V453.65M892.55 450.35V453.65M950.40 450.35V453.65" stroke="#555" stroke-width="1.3" fill="none"/>
<text x="580.75" y="441.40" class="tk" text-anchor="end">1</text>
<text x="580.75" y="406.53" class="tk" text-anchor="end">2</text>
<text x="580.75" y="371.66" class="tk" text-anchor="end">3</text>
<text x="580.75" y="336.79" class="tk" text-anchor="end">4</text>
<text x="580.75" y="301.93" class="tk" text-anchor="end">5</text>
<text x="580.75" y="267.06" class="tk" text-anchor="end">6</text>
<text x="580.75" y="232.19" class="tk" text-anchor="end">7</text>
<text x="580.75" y="197.32" class="tk" text-anchor="end">8</text>
<text x="580.75" y="162.45" class="tk" text-anchor="end">9</text>
<text x="603.30" y="466.2" class="tk" text-anchor="middle">-3</text>
<text x="661.15" y="466.2" class="tk" text-anchor="middle">-2</text>
<text x="719.00" y="466.2" class="tk" text-anchor="middle">-1</text>
<text x="776.85" y="466.2" class="tk" text-anchor="middle">0</text>
<text x="834.70" y="466.2" class="tk" text-anchor="middle">1</text>
<text x="892.55" y="466.2" class="tk" text-anchor="middle">2</text>
<text x="950.40" y="466.2" class="tk" text-anchor="middle">3</text>
<text x="776.85" y="518.2" class="ax" text-anchor="middle">Face exaggeration (SD)</text>
<text transform="translate(536.55 297.82) rotate(-90)" class="ax" text-anchor="middle">Sexual dimorphism</text>
<rect x="591.85" y="89.90" width="43.4" height="16.0" fill="#f9cbb7" stroke="#e64a40" stroke-width="1.2" rx="0.8"/>
<path d="M595.25 97.90H631.55" stroke="#ec2823" stroke-width="4.2"/>
<text x="645.95" y="105.60" class="lg">Attracitveness orthogonal to Sexual dimorphism</text>
<rect x="591.85" y="108.40" width="43.4" height="16.0" fill="#bec2e2" stroke="#4a6fbd" stroke-width="1.2" rx="0.8"/>
<path d="M595.25 116.40H631.55" stroke="#2150a5" stroke-width="4.2"/>
<text x="645.95" y="124.30" class="lg">Sexual dimorphism orthogonal to Attractiveness</text>
<path d="M1112.30 418.97H1494.10M1112.30 384.10H1494.10M1112.30 349.23H1494.10M1112.30 314.36H1494.10M1112.30 279.49H1494.10M1112.30 244.62H1494.10M1112.30 209.75H1494.10M1112.30 174.88H1494.10M1158.58 143.50V450.35M1216.43 143.50V450.35M1274.28 143.50V450.35M1332.12 143.50V450.35M1389.97 143.50V450.35M1447.82 143.50V450.35" stroke="#f4f4f4" stroke-width="1.3" fill="none"/>
<path d="M1112.30 436.40H1494.10M1112.30 401.53H1494.10M1112.30 366.66H1494.10M1112.30 331.79H1494.10M1112.30 296.93H1494.10M1112.30 262.06H1494.10M1112.30 227.19H1494.10M1112.30 192.32H1494.10M1112.30 157.45H1494.10M1129.65 143.50V450.35M1187.50 143.50V450.35M1245.35 143.50V450.35M1303.20 143.50V450.35M1361.05 143.50V450.35M1418.90 143.50V450.35M1476.75 143.50V450.35" stroke="#eeeeee" stroke-width="1.3" fill="none"/>
<clipPath id="cb2"><path d="M1129.65 293.57L1135.44 293.00L1141.22 292.45L1147.01 291.89L1152.79 291.35L1158.58 290.82L1164.36 290.29L1170.15 289.77L1175.93 289.26L1181.72 288.75L1187.50 288.26L1193.29 287.77L1199.07 287.29L1204.86 286.82L1210.64 286.35L1216.43 285.89L1222.21 285.44L1228.00 285.00L1233.78 284.57L1239.57 284.14L1245.35 283.72L1251.14 283.31L1256.92 282.91L1262.71 282.52L1268.49 282.13L1274.28 281.75L1280.06 281.38L1285.85 281.02L1291.63 280.66L1297.42 280.31L1303.20 279.97L1308.98 279.64L1314.77 279.31L1320.55 279.00L1326.34 278.69L1332.12 278.39L1337.91 278.09L1343.69 277.81L1349.48 277.53L1355.26 277.26L1361.05 277.00L1366.83 276.75L1372.62 276.50L1378.40 276.26L1384.19 276.03L1389.97 275.81L1395.76 275.59L1401.54 275.38L1407.33 275.18L1413.11 274.99L1418.90 274.81L1424.68 274.63L1430.47 274.46L1436.25 274.30L1442.04 274.15L1447.82 274.00L1453.61 273.87L1459.39 273.74L1465.18 273.62L1470.96 273.50L1476.75 273.40L1476.75 331.82L1470.96 331.16L1465.18 330.56L1459.39 330.01L1453.61 329.52L1447.82 329.08L1442.04 328.69L1436.25 328.36L1430.47 328.08L1424.68 327.85L1418.90 327.67L1413.11 327.54L1407.33 327.45L1401.54 327.42L1395.76 327.43L1389.97 327.49L1384.19 327.59L1378.40 327.74L1372.62 327.93L1366.83 328.16L1361.05 328.44L1355.26 328.76L1349.48 329.11L1343.69 329.51L1337.91 329.95L1332.12 330.42L1326.34 330.93L1320.55 331.47L1314.77 332.06L1308.98 332.67L1303.20 333.32L1297.42 334.00L1291.63 334.72L1285.85 335.47L1280.06 336.24L1274.28 337.05L1268.49 337.89L1262.71 338.75L1256.92 339.64L1251.14 340.56L1245.35 341.50L1239.57 342.47L1233.78 343.46L1228.00 344.47L1222.21 345.51L1216.43 346.57L1210.64 347.65L1204.86 348.75L1199.07 349.87L1193.29 351.01L1187.50 352.16L1181.72 353.33L1175.93 354.52L1170.15 355.72L1164.36 356.94L1158.58 358.17L1152.79 359.41L1147.01 360.66L1141.22 361.93L1135.44 363.20L1129.65 364.49Z"/></clipPath>
<path d="M1129.65 293.57L1135.44 293.00L1141.22 292.45L1147.01 291.89L1152.79 291.35L1158.58 290.82L1164.36 290.29L1170.15 289.77L1175.93 289.26L1181.72 288.75L1187.50 288.26L1193.29 287.77L1199.07 287.29L1204.86 286.82L1210.64 286.35L1216.43 285.89L1222.21 285.44L1228.00 285.00L1233.78 284.57L1239.57 284.14L1245.35 283.72L1251.14 283.31L1256.92 282.91L1262.71 282.52L1268.49 282.13L1274.28 281.75L1280.06 281.38L1285.85 281.02L1291.63 280.66L1297.42 280.31L1303.20 279.97L1308.98 279.64L1314.77 279.31L1320.55 279.00L1326.34 278.69L1332.12 278.39L1337.91 278.09L1343.69 277.81L1349.48 277.53L1355.26 277.26L1361.05 277.00L1366.83 276.75L1372.62 276.50L1378.40 276.26L1384.19 276.03L1389.97 275.81L1395.76 275.59L1401.54 275.38L1407.33 275.18L1413.11 274.99L1418.90 274.81L1424.68 274.63L1430.47 274.46L1436.25 274.30L1442.04 274.15L1447.82 274.00L1453.61 273.87L1459.39 273.74L1465.18 273.62L1470.96 273.50L1476.75 273.40L1476.75 331.82L1470.96 331.16L1465.18 330.56L1459.39 330.01L1453.61 329.52L1447.82 329.08L1442.04 328.69L1436.25 328.36L1430.47 328.08L1424.68 327.85L1418.90 327.67L1413.11 327.54L1407.33 327.45L1401.54 327.42L1395.76 327.43L1389.97 327.49L1384.19 327.59L1378.40 327.74L1372.62 327.93L1366.83 328.16L1361.05 328.44L1355.26 328.76L1349.48 329.11L1343.69 329.51L1337.91 329.95L1332.12 330.42L1326.34 330.93L1320.55 331.47L1314.77 332.06L1308.98 332.67L1303.20 333.32L1297.42 334.00L1291.63 334.72L1285.85 335.47L1280.06 336.24L1274.28 337.05L1268.49 337.89L1262.71 338.75L1256.92 339.64L1251.14 340.56L1245.35 341.50L1239.57 342.47L1233.78 343.46L1228.00 344.47L1222.21 345.51L1216.43 346.57L1210.64 347.65L1204.86 348.75L1199.07 349.87L1193.29 351.01L1187.50 352.16L1181.72 353.33L1175.93 354.52L1170.15 355.72L1164.36 356.94L1158.58 358.17L1152.79 359.41L1147.01 360.66L1141.22 361.93L1135.44 363.20L1129.65 364.49Z" fill="#aeb3db" fill-opacity="0.8"/>
<path d="M1129.65 345.66L1135.44 342.91L1141.22 340.20L1147.01 337.52L1152.79 334.87L1158.58 332.26L1164.36 329.69L1170.15 327.15L1175.93 324.65L1181.72 322.19L1187.50 319.76L1193.29 317.38L1199.07 315.03L1204.86 312.72L1210.64 310.46L1216.43 308.23L1222.21 306.04L1228.00 303.90L1233.78 301.80L1239.57 299.74L1245.35 297.72L1251.14 295.75L1256.92 293.82L1262.71 291.94L1268.49 290.10L1274.28 288.31L1280.06 286.56L1285.85 284.86L1291.63 283.21L1297.42 281.61L1303.20 280.05L1308.98 278.55L1314.77 277.09L1320.55 275.69L1326.34 274.33L1332.12 273.03L1337.91 271.77L1343.69 270.57L1349.48 269.42L1355.26 268.33L1361.05 267.29L1366.83 266.30L1372.62 265.37L1378.40 264.49L1384.19 263.67L1389.97 262.90L1395.76 262.19L1401.54 261.54L1407.33 260.95L1413.11 260.41L1418.90 259.94L1424.68 259.52L1430.47 259.17L1436.25 258.87L1442.04 258.63L1447.82 258.46L1453.61 258.35L1459.39 258.30L1465.18 258.32L1470.96 258.39L1476.75 258.54L1476.75 319.89L1470.96 319.45L1465.18 319.09L1459.39 318.80L1453.61 318.59L1447.82 318.44L1442.04 318.37L1436.25 318.36L1430.47 318.43L1424.68 318.56L1418.90 318.77L1413.11 319.04L1407.33 319.38L1401.54 319.78L1395.76 320.25L1389.97 320.78L1384.19 321.38L1378.40 322.04L1372.62 322.76L1366.83 323.55L1361.05 324.40L1355.26 325.30L1349.48 326.27L1343.69 327.30L1337.91 328.38L1332.12 329.52L1326.34 330.72L1320.55 331.98L1314.77 333.29L1308.98 334.66L1303.20 336.08L1297.42 337.55L1291.63 339.08L1285.85 340.66L1280.06 342.29L1274.28 343.97L1268.49 345.70L1262.71 347.48L1256.92 349.31L1251.14 351.19L1245.35 353.11L1239.57 355.09L1233.78 357.10L1228.00 359.17L1222.21 361.27L1216.43 363.42L1210.64 365.62L1204.86 367.85L1199.07 370.13L1193.29 372.45L1187.50 374.81L1181.72 377.21L1175.93 379.64L1170.15 382.12L1164.36 384.63L1158.58 387.18L1152.79 389.77L1147.01 392.39L1141.22 395.05L1135.44 397.74L1129.65 400.46Z" fill="#f8bea6" fill-opacity="0.8"/>
<path d="M1129.65 345.66L1135.44 342.91L1141.22 340.20L1147.01 337.52L1152.79 334.87L1158.58 332.26L1164.36 329.69L1170.15 327.15L1175.93 324.65L1181.72 322.19L1187.50 319.76L1193.29 317.38L1199.07 315.03L1204.86 312.72L1210.64 310.46L1216.43 308.23L1222.21 306.04L1228.00 303.90L1233.78 301.80L1239.57 299.74L1245.35 297.72L1251.14 295.75L1256.92 293.82L1262.71 291.94L1268.49 290.10L1274.28 288.31L1280.06 286.56L1285.85 284.86L1291.63 283.21L1297.42 281.61L1303.20 280.05L1308.98 278.55L1314.77 277.09L1320.55 275.69L1326.34 274.33L1332.12 273.03L1337.91 271.77L1343.69 270.57L1349.48 269.42L1355.26 268.33L1361.05 267.29L1366.83 266.30L1372.62 265.37L1378.40 264.49L1384.19 263.67L1389.97 262.90L1395.76 262.19L1401.54 261.54L1407.33 260.95L1413.11 260.41L1418.90 259.94L1424.68 259.52L1430.47 259.17L1436.25 258.87L1442.04 258.63L1447.82 258.46L1453.61 258.35L1459.39 258.30L1465.18 258.32L1470.96 258.39L1476.75 258.54L1476.75 319.89L1470.96 319.45L1465.18 319.09L1459.39 318.80L1453.61 318.59L1447.82 318.44L1442.04 318.37L1436.25 318.36L1430.47 318.43L1424.68 318.56L1418.90 318.77L1413.11 319.04L1407.33 319.38L1401.54 319.78L1395.76 320.25L1389.97 320.78L1384.19 321.38L1378.40 322.04L1372.62 322.76L1366.83 323.55L1361.05 324.40L1355.26 325.30L1349.48 326.27L1343.69 327.30L1337.91 328.38L1332.12 329.52L1326.34 330.72L1320.55 331.98L1314.77 333.29L1308.98 334.66L1303.20 336.08L1297.42 337.55L1291.63 339.08L1285.85 340.66L1280.06 342.29L1274.28 343.97L1268.49 345.70L1262.71 347.48L1256.92 349.31L1251.14 351.19L1245.35 353.11L1239.57 355.09L1233.78 357.10L1228.00 359.17L1222.21 361.27L1216.43 363.42L1210.64 365.62L1204.86 367.85L1199.07 370.13L1193.29 372.45L1187.50 374.81L1181.72 377.21L1175.93 379.64L1170.15 382.12L1164.36 384.63L1158.58 387.18L1152.79 389.77L1147.01 392.39L1141.22 395.05L1135.44 397.74L1129.65 400.46Z" fill="#b99bb1" fill-opacity="0.8" clip-path="url(#cb2)"/>
<path d="M1129.65 345.66L1135.44 342.91L1141.22 340.20L1147.01 337.52L1152.79 334.87L1158.58 332.26L1164.36 329.69L1170.15 327.15L1175.93 324.65L1181.72 322.19L1187.50 319.76L1193.29 317.38L1199.07 315.03L1204.86 312.72L1210.64 310.46L1216.43 308.23L1222.21 306.04L1228.00 303.90L1233.78 301.80L1239.57 299.74L1245.35 297.72L1251.14 295.75L1256.92 293.82L1262.71 291.94L1268.49 290.10L1274.28 288.31L1280.06 286.56L1285.85 284.86L1291.63 283.21L1297.42 281.61L1303.20 280.05L1308.98 278.55L1314.77 277.09L1320.55 275.69L1326.34 274.33L1332.12 273.03L1337.91 271.77L1343.69 270.57L1349.48 269.42L1355.26 268.33L1361.05 267.29L1366.83 266.30L1372.62 265.37L1378.40 264.49L1384.19 263.67L1389.97 262.90L1395.76 262.19L1401.54 261.54L1407.33 260.95L1413.11 260.41L1418.90 259.94L1424.68 259.52L1430.47 259.17L1436.25 258.87L1442.04 258.63L1447.82 258.46L1453.61 258.35L1459.39 258.30L1465.18 258.32L1470.96 258.39L1476.75 258.54M1129.65 400.46L1135.44 397.74L1141.22 395.05L1147.01 392.39L1152.79 389.77L1158.58 387.18L1164.36 384.63L1170.15 382.12L1175.93 379.64L1181.72 377.21L1187.50 374.81L1193.29 372.45L1199.07 370.13L1204.86 367.85L1210.64 365.62L1216.43 363.42L1222.21 361.27L1228.00 359.17L1233.78 357.10L1239.57 355.09L1245.35 353.11L1251.14 351.19L1256.92 349.31L1262.71 347.48L1268.49 345.70L1274.28 343.97L1280.06 342.29L1285.85 340.66L1291.63 339.08L1297.42 337.55L1303.20 336.08L1308.98 334.66L1314.77 333.29L1320.55 331.98L1326.34 330.72L1332.12 329.52L1337.91 328.38L1343.69 327.30L1349.48 326.27L1355.26 325.30L1361.05 324.40L1366.83 323.55L1372.62 322.76L1378.40 322.04L1384.19 321.38L1389.97 320.78L1395.76 320.25L1401.54 319.78L1407.33 319.38L1413.11 319.04L1418.90 318.77L1424.68 318.56L1430.47 318.43L1436.25 318.36L1442.04 318.37L1447.82 318.44L1453.61 318.59L1459.39 318.80L1465.18 319.09L1470.96 319.45L1476.75 319.89" stroke="#e8463c" stroke-width="1.5" fill="none"/>
<path d="M1129.65 345.66L1135.44 342.91L1141.22 340.20L1147.01 337.52L1152.79 334.87L1158.58 332.26L1164.36 329.69L1170.15 327.15L1175.93 324.65L1181.72 322.19L1187.50 319.76L1193.29 317.38L1199.07 315.03L1204.86 312.72L1210.64 310.46L1216.43 308.23L1222.21 306.04L1228.00 303.90L1233.78 301.80L1239.57 299.74L1245.35 297.72L1251.14 295.75L1256.92 293.82L1262.71 291.94L1268.49 290.10L1274.28 288.31L1280.06 286.56L1285.85 284.86L1291.63 283.21L1297.42 281.61L1303.20 280.05L1308.98 278.55L1314.77 277.09L1320.55 275.69L1326.34 274.33L1332.12 273.03L1337.91 271.77L1343.69 270.57L1349.48 269.42L1355.26 268.33L1361.05 267.29L1366.83 266.30L1372.62 265.37L1378.40 264.49L1384.19 263.67L1389.97 262.90L1395.76 262.19L1401.54 261.54L1407.33 260.95L1413.11 260.41L1418.90 259.94L1424.68 259.52L1430.47 259.17L1436.25 258.87L1442.04 258.63L1447.82 258.46L1453.61 258.35L1459.39 258.30L1465.18 258.32L1470.96 258.39L1476.75 258.54M1129.65 400.46L1135.44 397.74L1141.22 395.05L1147.01 392.39L1152.79 389.77L1158.58 387.18L1164.36 384.63L1170.15 382.12L1175.93 379.64L1181.72 377.21L1187.50 374.81L1193.29 372.45L1199.07 370.13L1204.86 367.85L1210.64 365.62L1216.43 363.42L1222.21 361.27L1228.00 359.17L1233.78 357.10L1239.57 355.09L1245.35 353.11L1251.14 351.19L1256.92 349.31L1262.71 347.48L1268.49 345.70L1274.28 343.97L1280.06 342.29L1285.85 340.66L1291.63 339.08L1297.42 337.55L1303.20 336.08L1308.98 334.66L1314.77 333.29L1320.55 331.98L1326.34 330.72L1332.12 329.52L1337.91 328.38L1343.69 327.30L1349.48 326.27L1355.26 325.30L1361.05 324.40L1366.83 323.55L1372.62 322.76L1378.40 322.04L1384.19 321.38L1389.97 320.78L1395.76 320.25L1401.54 319.78L1407.33 319.38L1413.11 319.04L1418.90 318.77L1424.68 318.56L1430.47 318.43L1436.25 318.36L1442.04 318.37L1447.82 318.44L1453.61 318.59L1459.39 318.80L1465.18 319.09L1470.96 319.45L1476.75 319.89" stroke="#c25666" stroke-width="1.5" fill="none" clip-path="url(#cb2)"/>
<path d="M1129.65 293.57L1135.44 293.00L1141.22 292.45L1147.01 291.89L1152.79 291.35L1158.58 290.82L1164.36 290.29L1170.15 289.77L1175.93 289.26L1181.72 288.75L1187.50 288.26L1193.29 287.77L1199.07 287.29L1204.86 286.82L1210.64 286.35L1216.43 285.89L1222.21 285.44L1228.00 285.00L1233.78 284.57L1239.57 284.14L1245.35 283.72L1251.14 283.31L1256.92 282.91L1262.71 282.52L1268.49 282.13L1274.28 281.75L1280.06 281.38L1285.85 281.02L1291.63 280.66L1297.42 280.31L1303.20 279.97L1308.98 279.64L1314.77 279.31L1320.55 279.00L1326.34 278.69L1332.12 278.39L1337.91 278.09L1343.69 277.81L1349.48 277.53L1355.26 277.26L1361.05 277.00L1366.83 276.75L1372.62 276.50L1378.40 276.26L1384.19 276.03L1389.97 275.81L1395.76 275.59L1401.54 275.38L1407.33 275.18L1413.11 274.99L1418.90 274.81L1424.68 274.63L1430.47 274.46L1436.25 274.30L1442.04 274.15L1447.82 274.00L1453.61 273.87L1459.39 273.74L1465.18 273.62L1470.96 273.50L1476.75 273.40M1129.65 364.49L1135.44 363.20L1141.22 361.93L1147.01 360.66L1152.79 359.41L1158.58 358.17L1164.36 356.94L1170.15 355.72L1175.93 354.52L1181.72 353.33L1187.50 352.16L1193.29 351.01L1199.07 349.87L1204.86 348.75L1210.64 347.65L1216.43 346.57L1222.21 345.51L1228.00 344.47L1233.78 343.46L1239.57 342.47L1245.35 341.50L1251.14 340.56L1256.92 339.64L1262.71 338.75L1268.49 337.89L1274.28 337.05L1280.06 336.24L1285.85 335.47L1291.63 334.72L1297.42 334.00L1303.20 333.32L1308.98 332.67L1314.77 332.06L1320.55 331.47L1326.34 330.93L1332.12 330.42L1337.91 329.95L1343.69 329.51L1349.48 329.11L1355.26 328.76L1361.05 328.44L1366.83 328.16L1372.62 327.93L1378.40 327.74L1384.19 327.59L1389.97 327.49L1395.76 327.43L1401.54 327.42L1407.33 327.45L1413.11 327.54L1418.90 327.67L1424.68 327.85L1430.47 328.08L1436.25 328.36L1442.04 328.69L1447.82 329.08L1453.61 329.52L1459.39 330.01L1465.18 330.56L1470.96 331.16L1476.75 331.82" stroke="#3a62b4" stroke-width="1.5" fill="none"/>
<path d="M1129.65 371.94L1135.44 369.12L1141.22 366.35L1147.01 363.63L1152.79 360.95L1158.58 358.32L1164.36 355.74L1170.15 353.21L1175.93 350.72L1181.72 348.28L1187.50 345.89L1193.29 343.55L1199.07 341.25L1204.86 339.01L1210.64 336.81L1216.43 334.66L1222.21 332.56L1228.00 330.50L1233.78 328.49L1239.57 326.53L1245.35 324.62L1251.14 322.76L1256.92 320.94L1262.71 319.17L1268.49 317.45L1274.28 315.78L1280.06 314.15L1285.85 312.58L1291.63 311.05L1297.42 309.57L1303.20 308.13L1308.98 306.75L1314.77 305.41L1320.55 304.12L1326.34 302.88L1332.12 301.68L1337.91 300.54L1343.69 299.44L1349.48 298.39L1355.26 297.38L1361.05 296.43L1366.83 295.52L1372.62 294.66L1378.40 293.85L1384.19 293.08L1389.97 292.37L1395.76 291.70L1401.54 291.08L1407.33 290.51L1413.11 289.98L1418.90 289.50L1424.68 289.07L1430.47 288.69L1436.25 288.36L1442.04 288.07L1447.82 287.83L1453.61 287.64L1459.39 287.50L1465.18 287.41L1470.96 287.36L1476.75 287.36" stroke="#ec2823" stroke-width="5.2" fill="none"/>
<circle cx="1129.65" cy="364.92" r="6.1" fill="#ec2823"/>
<circle cx="1187.50" cy="343.30" r="6.1" fill="#ec2823"/>
<circle cx="1245.35" cy="324.47" r="6.1" fill="#ec2823"/>
<circle cx="1303.20" cy="304.94" r="6.1" fill="#ec2823"/>
<circle cx="1361.05" cy="289.60" r="6.1" fill="#ec2823"/>
<circle cx="1418.90" cy="286.46" r="6.1" fill="#ec2823"/>
<circle cx="1476.75" cy="295.18" r="6.1" fill="#ec2823"/>
<path d="M1129.65 328.77L1135.44 327.75L1141.22 326.75L1147.01 325.76L1152.79 324.80L1158.58 323.86L1164.36 322.93L1170.15 322.03L1175.93 321.15L1181.72 320.28L1187.50 319.44L1193.29 318.62L1199.07 317.82L1204.86 317.03L1210.64 316.27L1216.43 315.53L1222.21 314.81L1228.00 314.10L1233.78 313.42L1239.57 312.76L1245.35 312.12L1251.14 311.50L1256.92 310.89L1262.71 310.31L1268.49 309.75L1274.28 309.21L1280.06 308.69L1285.85 308.19L1291.63 307.71L1297.42 307.25L1303.20 306.80L1308.98 306.38L1314.77 305.98L1320.55 305.60L1326.34 305.24L1332.12 304.90L1337.91 304.58L1343.69 304.28L1349.48 304.00L1355.26 303.74L1361.05 303.50L1366.83 303.28L1372.62 303.08L1378.40 302.90L1384.19 302.74L1389.97 302.60L1395.76 302.48L1401.54 302.38L1407.33 302.30L1413.11 302.24L1418.90 302.21L1424.68 302.19L1430.47 302.19L1436.25 302.21L1442.04 302.25L1447.82 302.31L1453.61 302.39L1459.39 302.49L1465.18 302.62L1470.96 302.76L1476.75 302.92" stroke="#2150a5" stroke-width="5.2" fill="none"/>
<circle cx="1129.65" cy="337.02" r="6.1" fill="#2150a5"/>
<circle cx="1187.50" cy="318.20" r="6.1" fill="#2150a5"/>
<circle cx="1245.35" cy="319.59" r="6.1" fill="#2150a5"/>
<circle cx="1303.20" cy="309.83" r="6.1" fill="#2150a5"/>
<circle cx="1361.05" cy="298.32" r="6.1" fill="#2150a5"/>
<circle cx="1418.90" cy="299.37" r="6.1" fill="#2150a5"/>
<circle cx="1476.75" cy="296.23" r="6.1" fill="#2150a5"/>
<rect x="1112.60" y="143.85" width="381.20" height="306.15" fill="none" stroke="#7a7a7a" stroke-width="1.5"/>
<path d="M1109.00 436.40H1112.30M1109.00 401.53H1112.30M1109.00 366.66H1112.30M1109.00 331.79H1112.30M1109.00 296.93H1112.30M1109.00 262.06H1112.30M1109.00 227.19H1112.30M1109.00 192.32H1112.30M1109.00 157.45H1112.30M1129.65 450.35V453.65M1187.50 450.35V453.65M1245.35 450.35V453.65M1303.20 450.35V453.65M1361.05 450.35V453.65M1418.90 450.35V453.65M1476.75 450.35V453.65" stroke="#555" stroke-width="1.3" fill="none"/>
<text x="1107.10" y="441.40" class="tk" text-anchor="end">1</text>
<text x="1107.10" y="406.53" class="tk" text-anchor="end">2</text>
<text x="1107.10" y="371.66" class="tk" text-anchor="end">3</text>
<text x="1107.10" y="336.79" class="tk" text-anchor="end">4</text>
<text x="1107.10" y="301.93" class="tk" text-anchor="end">5</text>
<text x="1107.10" y="267.06" class="tk" text-anchor="end">6</text>
<text x="1107.10" y="232.19" class="tk" text-anchor="end">7</text>
<text x="1107.10" y="197.32" class="tk" text-anchor="end">8</text>
<text x="1107.10" y="162.45" class="tk" text-anchor="end">9</text>
<text x="1129.65" y="466.2" class="tk" text-anchor="middle">-3</text>
<text x="1187.50" y="466.2" class="tk" text-anchor="middle">-2</text>
<text x="1245.35" y="466.2" class="tk" text-anchor="middle">-1</text>
<text x="1303.20" y="466.2" class="tk" text-anchor="middle">0</text>
<text x="1361.05" y="466.2" class="tk" text-anchor="middle">1</text>
<text x="1418.90" y="466.2" class="tk" text-anchor="middle">2</text>
<text x="1476.75" y="466.2" class="tk" text-anchor="middle">3</text>
<text x="1303.20" y="518.2" class="ax" text-anchor="middle">Face exaggeration (SD)</text>
<text transform="translate(1062.90 297.82) rotate(-90)" class="ax" text-anchor="middle">Attractiveness</text>
<rect x="1118.20" y="89.90" width="43.4" height="16.0" fill="#f9cbb7" stroke="#e64a40" stroke-width="1.2" rx="0.8"/>
<path d="M1121.60 97.90H1157.90" stroke="#ec2823" stroke-width="4.2"/>
<text x="1172.30" y="105.60" class="lg">Attracitveness orthogonal to Sexual dimorphism</text>
<rect x="1118.20" y="108.40" width="43.4" height="16.0" fill="#bec2e2" stroke="#4a6fbd" stroke-width="1.2" rx="0.8"/>
<path d="M1121.60 116.40H1157.90" stroke="#2150a5" stroke-width="4.2"/>
<text x="1172.30" y="124.30" class="lg">Sexual dimorphism orthogonal to Attractiveness</text>
<path d="M1624.55 418.97H2006.35M1624.55 384.10H2006.35M1624.55 349.23H2006.35M1624.55 314.36H2006.35M1624.55 279.49H2006.35M1624.55 244.62H2006.35M1624.55 209.75H2006.35M1624.55 174.88H2006.35M1670.83 143.50V450.35M1728.68 143.50V450.35M1786.53 143.50V450.35M1844.37 143.50V450.35M1902.22 143.50V450.35M1960.07 143.50V450.35" stroke="#f4f4f4" stroke-width="1.3" fill="none"/>
<path d="M1624.55 436.40H2006.35M1624.55 401.53H2006.35M1624.55 366.66H2006.35M1624.55 331.79H2006.35M1624.55 296.93H2006.35M1624.55 262.06H2006.35M1624.55 227.19H2006.35M1624.55 192.32H2006.35M1624.55 157.45H2006.35M1641.90 143.50V450.35M1699.75 143.50V450.35M1757.60 143.50V450.35M1815.45 143.50V450.35M1873.30 143.50V450.35M1931.15 143.50V450.35M1989.00 143.50V450.35" stroke="#eeeeee" stroke-width="1.3" fill="none"/>
<clipPath id="cb3"><path d="M1641.90 344.97L1647.69 342.79L1653.47 340.60L1659.26 338.40L1665.04 336.19L1670.83 333.96L1676.61 331.73L1682.40 329.48L1688.18 327.21L1693.97 324.94L1699.75 322.65L1705.54 320.34L1711.32 318.02L1717.11 315.69L1722.89 313.35L1728.68 310.99L1734.46 308.61L1740.25 306.22L1746.03 303.82L1751.82 301.40L1757.60 298.96L1763.39 296.51L1769.17 294.04L1774.96 291.55L1780.74 289.05L1786.53 286.53L1792.31 284.00L1798.10 281.44L1803.88 278.87L1809.67 276.29L1815.45 273.68L1821.23 271.05L1827.02 268.41L1832.80 265.75L1838.59 263.07L1844.37 260.37L1850.16 257.65L1855.94 254.91L1861.73 252.15L1867.51 249.37L1873.30 246.57L1879.08 243.75L1884.87 240.91L1890.65 238.05L1896.44 235.17L1902.22 232.26L1908.01 229.33L1913.79 226.39L1919.58 223.42L1925.36 220.42L1931.15 217.41L1936.93 214.37L1942.72 211.31L1948.50 208.22L1954.29 205.11L1960.07 201.98L1965.86 198.82L1971.64 195.64L1977.43 192.44L1983.21 189.20L1989.00 185.95L1989.00 227.93L1983.21 231.25L1977.43 234.56L1971.64 237.88L1965.86 241.19L1960.07 244.49L1954.29 247.79L1948.50 251.09L1942.72 254.38L1936.93 257.66L1931.15 260.93L1925.36 264.20L1919.58 267.46L1913.79 270.70L1908.01 273.93L1902.22 277.15L1896.44 280.36L1890.65 283.55L1884.87 286.73L1879.08 289.89L1873.30 293.04L1867.51 296.17L1861.73 299.28L1855.94 302.37L1850.16 305.44L1844.37 308.48L1838.59 311.51L1832.80 314.51L1827.02 317.49L1821.23 320.45L1815.45 323.38L1809.67 326.28L1803.88 329.15L1798.10 332.00L1792.31 334.82L1786.53 337.61L1780.74 340.37L1774.96 343.09L1769.17 345.79L1763.39 348.45L1757.60 351.07L1751.82 353.66L1746.03 356.22L1740.25 358.74L1734.46 361.22L1728.68 363.66L1722.89 366.06L1717.11 368.42L1711.32 370.74L1705.54 373.02L1699.75 375.26L1693.97 377.45L1688.18 379.60L1682.40 381.70L1676.61 383.75L1670.83 385.76L1665.04 387.72L1659.26 389.63L1653.47 391.49L1647.69 393.30L1641.90 395.06Z"/></clipPath>
<path d="M1641.90 344.97L1647.69 342.79L1653.47 340.60L1659.26 338.40L1665.04 336.19L1670.83 333.96L1676.61 331.73L1682.40 329.48L1688.18 327.21L1693.97 324.94L1699.75 322.65L1705.54 320.34L1711.32 318.02L1717.11 315.69L1722.89 313.35L1728.68 310.99L1734.46 308.61L1740.25 306.22L1746.03 303.82L1751.82 301.40L1757.60 298.96L1763.39 296.51L1769.17 294.04L1774.96 291.55L1780.74 289.05L1786.53 286.53L1792.31 284.00L1798.10 281.44L1803.88 278.87L1809.67 276.29L1815.45 273.68L1821.23 271.05L1827.02 268.41L1832.80 265.75L1838.59 263.07L1844.37 260.37L1850.16 257.65L1855.94 254.91L1861.73 252.15L1867.51 249.37L1873.30 246.57L1879.08 243.75L1884.87 240.91L1890.65 238.05L1896.44 235.17L1902.22 232.26L1908.01 229.33L1913.79 226.39L1919.58 223.42L1925.36 220.42L1931.15 217.41L1936.93 214.37L1942.72 211.31L1948.50 208.22L1954.29 205.11L1960.07 201.98L1965.86 198.82L1971.64 195.64L1977.43 192.44L1983.21 189.20L1989.00 185.95L1989.00 227.93L1983.21 231.25L1977.43 234.56L1971.64 237.88L1965.86 241.19L1960.07 244.49L1954.29 247.79L1948.50 251.09L1942.72 254.38L1936.93 257.66L1931.15 260.93L1925.36 264.20L1919.58 267.46L1913.79 270.70L1908.01 273.93L1902.22 277.15L1896.44 280.36L1890.65 283.55L1884.87 286.73L1879.08 289.89L1873.30 293.04L1867.51 296.17L1861.73 299.28L1855.94 302.37L1850.16 305.44L1844.37 308.48L1838.59 311.51L1832.80 314.51L1827.02 317.49L1821.23 320.45L1815.45 323.38L1809.67 326.28L1803.88 329.15L1798.10 332.00L1792.31 334.82L1786.53 337.61L1780.74 340.37L1774.96 343.09L1769.17 345.79L1763.39 348.45L1757.60 351.07L1751.82 353.66L1746.03 356.22L1740.25 358.74L1734.46 361.22L1728.68 363.66L1722.89 366.06L1717.11 368.42L1711.32 370.74L1705.54 373.02L1699.75 375.26L1693.97 377.45L1688.18 379.60L1682.40 381.70L1676.61 383.75L1670.83 385.76L1665.04 387.72L1659.26 389.63L1653.47 391.49L1647.69 393.30L1641.90 395.06Z" fill="#aeb3db" fill-opacity="0.8"/>
<path d="M1641.90 260.74L1647.69 260.99L1653.47 261.21L1659.26 261.41L1665.04 261.60L1670.83 261.76L1676.61 261.90L1682.40 262.02L1688.18 262.11L1693.97 262.19L1699.75 262.25L1705.54 262.28L1711.32 262.29L1717.11 262.29L1722.89 262.26L1728.68 262.20L1734.46 262.13L1740.25 262.04L1746.03 261.92L1751.82 261.78L1757.60 261.62L1763.39 261.44L1769.17 261.24L1774.96 261.01L1780.74 260.77L1786.53 260.50L1792.31 260.21L1798.10 259.89L1803.88 259.56L1809.67 259.20L1815.45 258.82L1821.23 258.41L1827.02 257.99L1832.80 257.54L1838.59 257.07L1844.37 256.58L1850.16 256.06L1855.94 255.52L1861.73 254.96L1867.51 254.38L1873.30 253.77L1879.08 253.14L1884.87 252.49L1890.65 251.81L1896.44 251.11L1902.22 250.39L1908.01 249.64L1913.79 248.87L1919.58 248.08L1925.36 247.26L1931.15 246.42L1936.93 245.56L1942.72 244.67L1948.50 243.76L1954.29 242.83L1960.07 241.87L1965.86 240.89L1971.64 239.88L1977.43 238.85L1983.21 237.80L1989.00 236.72L1989.00 316.67L1983.21 317.28L1977.43 317.88L1971.64 318.47L1965.86 319.05L1960.07 319.62L1954.29 320.18L1948.50 320.73L1942.72 321.27L1936.93 321.80L1931.15 322.32L1925.36 322.83L1919.58 323.33L1913.79 323.82L1908.01 324.29L1902.22 324.76L1896.44 325.22L1890.65 325.66L1884.87 326.09L1879.08 326.52L1873.30 326.93L1867.51 327.33L1861.73 327.72L1855.94 328.10L1850.16 328.47L1844.37 328.82L1838.59 329.17L1832.80 329.50L1827.02 329.82L1821.23 330.13L1815.45 330.43L1809.67 330.72L1803.88 331.00L1798.10 331.26L1792.31 331.51L1786.53 331.75L1780.74 331.98L1774.96 332.20L1769.17 332.40L1763.39 332.59L1757.60 332.77L1751.82 332.94L1746.03 333.10L1740.25 333.24L1734.46 333.37L1728.68 333.49L1722.89 333.60L1717.11 333.69L1711.32 333.77L1705.54 333.84L1699.75 333.89L1693.97 333.94L1688.18 333.97L1682.40 333.98L1676.61 333.99L1670.83 333.98L1665.04 333.96L1659.26 333.92L1653.47 333.87L1647.69 333.81L1641.90 333.74Z" fill="#f8bea6" fill-opacity="0.8"/>
<path d="M1641.90 260.74L1647.69 260.99L1653.47 261.21L1659.26 261.41L1665.04 261.60L1670.83 261.76L1676.61 261.90L1682.40 262.02L1688.18 262.11L1693.97 262.19L1699.75 262.25L1705.54 262.28L1711.32 262.29L1717.11 262.29L1722.89 262.26L1728.68 262.20L1734.46 262.13L1740.25 262.04L1746.03 261.92L1751.82 261.78L1757.60 261.62L1763.39 261.44L1769.17 261.24L1774.96 261.01L1780.74 260.77L1786.53 260.50L1792.31 260.21L1798.10 259.89L1803.88 259.56L1809.67 259.20L1815.45 258.82L1821.23 258.41L1827.02 257.99L1832.80 257.54L1838.59 257.07L1844.37 256.58L1850.16 256.06L1855.94 255.52L1861.73 254.96L1867.51 254.38L1873.30 253.77L1879.08 253.14L1884.87 252.49L1890.65 251.81L1896.44 251.11L1902.22 250.39L1908.01 249.64L1913.79 248.87L1919.58 248.08L1925.36 247.26L1931.15 246.42L1936.93 245.56L1942.72 244.67L1948.50 243.76L1954.29 242.83L1960.07 241.87L1965.86 240.89L1971.64 239.88L1977.43 238.85L1983.21 237.80L1989.00 236.72L1989.00 316.67L1983.21 317.28L1977.43 317.88L1971.64 318.47L1965.86 319.05L1960.07 319.62L1954.29 320.18L1948.50 320.73L1942.72 321.27L1936.93 321.80L1931.15 322.32L1925.36 322.83L1919.58 323.33L1913.79 323.82L1908.01 324.29L1902.22 324.76L1896.44 325.22L1890.65 325.66L1884.87 326.09L1879.08 326.52L1873.30 326.93L1867.51 327.33L1861.73 327.72L1855.94 328.10L1850.16 328.47L1844.37 328.82L1838.59 329.17L1832.80 329.50L1827.02 329.82L1821.23 330.13L1815.45 330.43L1809.67 330.72L1803.88 331.00L1798.10 331.26L1792.31 331.51L1786.53 331.75L1780.74 331.98L1774.96 332.20L1769.17 332.40L1763.39 332.59L1757.60 332.77L1751.82 332.94L1746.03 333.10L1740.25 333.24L1734.46 333.37L1728.68 333.49L1722.89 333.60L1717.11 333.69L1711.32 333.77L1705.54 333.84L1699.75 333.89L1693.97 333.94L1688.18 333.97L1682.40 333.98L1676.61 333.99L1670.83 333.98L1665.04 333.96L1659.26 333.92L1653.47 333.87L1647.69 333.81L1641.90 333.74Z" fill="#b99bb1" fill-opacity="0.8" clip-path="url(#cb3)"/>
<path d="M1641.90 260.74L1647.69 260.99L1653.47 261.21L1659.26 261.41L1665.04 261.60L1670.83 261.76L1676.61 261.90L1682.40 262.02L1688.18 262.11L1693.97 262.19L1699.75 262.25L1705.54 262.28L1711.32 262.29L1717.11 262.29L1722.89 262.26L1728.68 262.20L1734.46 262.13L1740.25 262.04L1746.03 261.92L1751.82 261.78L1757.60 261.62L1763.39 261.44L1769.17 261.24L1774.96 261.01L1780.74 260.77L1786.53 260.50L1792.31 260.21L1798.10 259.89L1803.88 259.56L1809.67 259.20L1815.45 258.82L1821.23 258.41L1827.02 257.99L1832.80 257.54L1838.59 257.07L1844.37 256.58L1850.16 256.06L1855.94 255.52L1861.73 254.96L1867.51 254.38L1873.30 253.77L1879.08 253.14L1884.87 252.49L1890.65 251.81L1896.44 251.11L1902.22 250.39L1908.01 249.64L1913.79 248.87L1919.58 248.08L1925.36 247.26L1931.15 246.42L1936.93 245.56L1942.72 244.67L1948.50 243.76L1954.29 242.83L1960.07 241.87L1965.86 240.89L1971.64 239.88L1977.43 238.85L1983.21 237.80L1989.00 236.72M1641.90 333.74L1647.69 333.81L1653.47 333.87L1659.26 333.92L1665.04 333.96L1670.83 333.98L1676.61 333.99L1682.40 333.98L1688.18 333.97L1693.97 333.94L1699.75 333.89L1705.54 333.84L1711.32 333.77L1717.11 333.69L1722.89 333.60L1728.68 333.49L1734.46 333.37L1740.25 333.24L1746.03 333.10L1751.82 332.94L1757.60 332.77L1763.39 332.59L1769.17 332.40L1774.96 332.20L1780.74 331.98L1786.53 331.75L1792.31 331.51L1798.10 331.26L1803.88 331.00L1809.67 330.72L1815.45 330.43L1821.23 330.13L1827.02 329.82L1832.80 329.50L1838.59 329.17L1844.37 328.82L1850.16 328.47L1855.94 328.10L1861.73 327.72L1867.51 327.33L1873.30 326.93L1879.08 326.52L1884.87 326.09L1890.65 325.66L1896.44 325.22L1902.22 324.76L1908.01 324.29L1913.79 323.82L1919.58 323.33L1925.36 322.83L1931.15 322.32L1936.93 321.80L1942.72 321.27L1948.50 320.73L1954.29 320.18L1960.07 319.62L1965.86 319.05L1971.64 318.47L1977.43 317.88L1983.21 317.28L1989.00 316.67" stroke="#e8463c" stroke-width="1.5" fill="none"/>
<path d="M1641.90 260.74L1647.69 260.99L1653.47 261.21L1659.26 261.41L1665.04 261.60L1670.83 261.76L1676.61 261.90L1682.40 262.02L1688.18 262.11L1693.97 262.19L1699.75 262.25L1705.54 262.28L1711.32 262.29L1717.11 262.29L1722.89 262.26L1728.68 262.20L1734.46 262.13L1740.25 262.04L1746.03 261.92L1751.82 261.78L1757.60 261.62L1763.39 261.44L1769.17 261.24L1774.96 261.01L1780.74 260.77L1786.53 260.50L1792.31 260.21L1798.10 259.89L1803.88 259.56L1809.67 259.20L1815.45 258.82L1821.23 258.41L1827.02 257.99L1832.80 257.54L1838.59 257.07L1844.37 256.58L1850.16 256.06L1855.94 255.52L1861.73 254.96L1867.51 254.38L1873.30 253.77L1879.08 253.14L1884.87 252.49L1890.65 251.81L1896.44 251.11L1902.22 250.39L1908.01 249.64L1913.79 248.87L1919.58 248.08L1925.36 247.26L1931.15 246.42L1936.93 245.56L1942.72 244.67L1948.50 243.76L1954.29 242.83L1960.07 241.87L1965.86 240.89L1971.64 239.88L1977.43 238.85L1983.21 237.80L1989.00 236.72M1641.90 333.74L1647.69 333.81L1653.47 333.87L1659.26 333.92L1665.04 333.96L1670.83 333.98L1676.61 333.99L1682.40 333.98L1688.18 333.97L1693.97 333.94L1699.75 333.89L1705.54 333.84L1711.32 333.77L1717.11 333.69L1722.89 333.60L1728.68 333.49L1734.46 333.37L1740.25 333.24L1746.03 333.10L1751.82 332.94L1757.60 332.77L1763.39 332.59L1769.17 332.40L1774.96 332.20L1780.74 331.98L1786.53 331.75L1792.31 331.51L1798.10 331.26L1803.88 331.00L1809.67 330.72L1815.45 330.43L1821.23 330.13L1827.02 329.82L1832.80 329.50L1838.59 329.17L1844.37 328.82L1850.16 328.47L1855.94 328.10L1861.73 327.72L1867.51 327.33L1873.30 326.93L1879.08 326.52L1884.87 326.09L1890.65 325.66L1896.44 325.22L1902.22 324.76L1908.01 324.29L1913.79 323.82L1919.58 323.33L1925.36 322.83L1931.15 322.32L1936.93 321.80L1942.72 321.27L1948.50 320.73L1954.29 320.18L1960.07 319.62L1965.86 319.05L1971.64 318.47L1977.43 317.88L1983.21 317.28L1989.00 316.67" stroke="#c25666" stroke-width="1.5" fill="none" clip-path="url(#cb3)"/>
<path d="M1641.90 344.97L1647.69 342.79L1653.47 340.60L1659.26 338.40L1665.04 336.19L1670.83 333.96L1676.61 331.73L1682.40 329.48L1688.18 327.21L1693.97 324.94L1699.75 322.65L1705.54 320.34L1711.32 318.02L1717.11 315.69L1722.89 313.35L1728.68 310.99L1734.46 308.61L1740.25 306.22L1746.03 303.82L1751.82 301.40L1757.60 298.96L1763.39 296.51L1769.17 294.04L1774.96 291.55L1780.74 289.05L1786.53 286.53L1792.31 284.00L1798.10 281.44L1803.88 278.87L1809.67 276.29L1815.45 273.68L1821.23 271.05L1827.02 268.41L1832.80 265.75L1838.59 263.07L1844.37 260.37L1850.16 257.65L1855.94 254.91L1861.73 252.15L1867.51 249.37L1873.30 246.57L1879.08 243.75L1884.87 240.91L1890.65 238.05L1896.44 235.17L1902.22 232.26L1908.01 229.33L1913.79 226.39L1919.58 223.42L1925.36 220.42L1931.15 217.41L1936.93 214.37L1942.72 211.31L1948.50 208.22L1954.29 205.11L1960.07 201.98L1965.86 198.82L1971.64 195.64L1977.43 192.44L1983.21 189.20L1989.00 185.95M1641.90 395.06L1647.69 393.30L1653.47 391.49L1659.26 389.63L1665.04 387.72L1670.83 385.76L1676.61 383.75L1682.40 381.70L1688.18 379.60L1693.97 377.45L1699.75 375.26L1705.54 373.02L1711.32 370.74L1717.11 368.42L1722.89 366.06L1728.68 363.66L1734.46 361.22L1740.25 358.74L1746.03 356.22L1751.82 353.66L1757.60 351.07L1763.39 348.45L1769.17 345.79L1774.96 343.09L1780.74 340.37L1786.53 337.61L1792.31 334.82L1798.10 332.00L1803.88 329.15L1809.67 326.28L1815.45 323.38L1821.23 320.45L1827.02 317.49L1832.80 314.51L1838.59 311.51L1844.37 308.48L1850.16 305.44L1855.94 302.37L1861.73 299.28L1867.51 296.17L1873.30 293.04L1879.08 289.89L1884.87 286.73L1890.65 283.55L1896.44 280.36L1902.22 277.15L1908.01 273.93L1913.79 270.70L1919.58 267.46L1925.36 264.20L1931.15 260.93L1936.93 257.66L1942.72 254.38L1948.50 251.09L1954.29 247.79L1960.07 244.49L1965.86 241.19L1971.64 237.88L1977.43 234.56L1983.21 231.25L1989.00 227.93" stroke="#3a62b4" stroke-width="1.5" fill="none"/>
<path d="M1641.90 296.96L1647.69 297.15L1653.47 297.32L1659.26 297.47L1665.04 297.61L1670.83 297.73L1676.61 297.82L1682.40 297.91L1688.18 297.97L1693.97 298.02L1699.75 298.05L1705.54 298.06L1711.32 298.05L1717.11 298.02L1722.89 297.98L1728.68 297.92L1734.46 297.84L1740.25 297.75L1746.03 297.63L1751.82 297.50L1757.60 297.35L1763.39 297.18L1769.17 296.99L1774.96 296.79L1780.74 296.57L1786.53 296.33L1792.31 296.07L1798.10 295.80L1803.88 295.51L1809.67 295.19L1815.45 294.87L1821.23 294.52L1827.02 294.16L1832.80 293.77L1838.59 293.37L1844.37 292.96L1850.16 292.52L1855.94 292.07L1861.73 291.59L1867.51 291.11L1873.30 290.60L1879.08 290.07L1884.87 289.53L1890.65 288.97L1896.44 288.39L1902.22 287.80L1908.01 287.18L1913.79 286.55L1919.58 285.90L1925.36 285.23L1931.15 284.55L1936.93 283.84L1942.72 283.12L1948.50 282.38L1954.29 281.63L1960.07 280.85L1965.86 280.06L1971.64 279.25L1977.43 278.42L1983.21 277.57L1989.00 276.71" stroke="#ec2823" stroke-width="5.2" fill="none"/>
<circle cx="1641.90" cy="294.14" r="6.1" fill="#ec2823"/>
<circle cx="1699.75" cy="302.85" r="6.1" fill="#ec2823"/>
<circle cx="1757.60" cy="297.27" r="6.1" fill="#ec2823"/>
<circle cx="1815.45" cy="292.04" r="6.1" fill="#ec2823"/>
<circle cx="1873.30" cy="290.65" r="6.1" fill="#ec2823"/>
<circle cx="1931.15" cy="277.05" r="6.1" fill="#ec2823"/>
<circle cx="1989.00" cy="267.63" r="6.1" fill="#ec2823"/>
<path d="M1641.90 370.02L1647.69 367.99L1653.47 365.94L1659.26 363.87L1665.04 361.78L1670.83 359.66L1676.61 357.52L1682.40 355.36L1688.18 353.17L1693.97 350.96L1699.75 348.73L1705.54 346.48L1711.32 344.20L1717.11 341.90L1722.89 339.58L1728.68 337.23L1734.46 334.87L1740.25 332.48L1746.03 330.06L1751.82 327.63L1757.60 325.17L1763.39 322.69L1769.17 320.18L1774.96 317.66L1780.74 315.11L1786.53 312.54L1792.31 309.94L1798.10 307.32L1803.88 304.68L1809.67 302.02L1815.45 299.33L1821.23 296.62L1827.02 293.89L1832.80 291.14L1838.59 288.36L1844.37 285.56L1850.16 282.74L1855.94 279.89L1861.73 277.03L1867.51 274.13L1873.30 271.22L1879.08 268.29L1884.87 265.33L1890.65 262.34L1896.44 259.34L1902.22 256.31L1908.01 253.26L1913.79 250.19L1919.58 247.09L1925.36 243.98L1931.15 240.84L1936.93 237.67L1942.72 234.49L1948.50 231.28L1954.29 228.04L1960.07 224.79L1965.86 221.51L1971.64 218.21L1977.43 214.89L1983.21 211.54L1989.00 208.17" stroke="#2150a5" stroke-width="5.2" fill="none"/>
<circle cx="1641.90" cy="368.41" r="6.1" fill="#2150a5"/>
<circle cx="1699.75" cy="349.23" r="6.1" fill="#2150a5"/>
<circle cx="1757.60" cy="330.75" r="6.1" fill="#2150a5"/>
<circle cx="1815.45" cy="297.97" r="6.1" fill="#2150a5"/>
<circle cx="1873.30" cy="266.59" r="6.1" fill="#2150a5"/>
<circle cx="1931.15" cy="241.83" r="6.1" fill="#2150a5"/>
<circle cx="1989.00" cy="208.01" r="6.1" fill="#2150a5"/>
<rect x="1624.85" y="143.85" width="381.20" height="306.15" fill="none" stroke="#7a7a7a" stroke-width="1.5"/>
<path d="M1621.25 436.40H1624.55M1621.25 401.53H1624.55M1621.25 366.66H1624.55M1621.25 331.79H1624.55M1621.25 296.93H1624.55M1621.25 262.06H1624.55M1621.25 227.19H1624.55M1621.25 192.32H1624.55M1621.25 157.45H1624.55M1641.90 450.35V453.65M1699.75 450.35V453.65M1757.60 450.35V453.65M1815.45 450.35V453.65M1873.30 450.35V453.65M1931.15 450.35V453.65M1989.00 450.35V453.65" stroke="#555" stroke-width="1.3" fill="none"/>
<text x="1619.35" y="441.40" class="tk" text-anchor="end">1</text>
<text x="1619.35" y="406.53" class="tk" text-anchor="end">2</text>
<text x="1619.35" y="371.66" class="tk" text-anchor="end">3</text>
<text x="1619.35" y="336.79" class="tk" text-anchor="end">4</text>
<text x="1619.35" y="301.93" class="tk" text-anchor="end">5</text>
<text x="1619.35" y="267.06" class="tk" text-anchor="end">6</text>
<text x="1619.35" y="232.19" class="tk" text-anchor="end">7</text>
<text x="1619.35" y="197.32" class="tk" text-anchor="end">8</text>
<text x="1619.35" y="162.45" class="tk" text-anchor="end">9</text>
<text x="1641.90" y="466.2" class="tk" text-anchor="middle">-3</text>
<text x="1699.75" y="466.2" class="tk" text-anchor="middle">-2</text>
<text x="1757.60" y="466.2" class="tk" text-anchor="middle">-1</text>
<text x="1815.45" y="466.2" class="tk" text-anchor="middle">0</text>
<text x="1873.30" y="466.2" class="tk" text-anchor="middle">1</text>
<text x="1931.15" y="466.2" class="tk" text-anchor="middle">2</text>
<text x="1989.00" y="466.2" class="tk" text-anchor="middle">3</text>
<text x="1815.45" y="518.2" class="ax" text-anchor="middle">Face exaggeration (SD)</text>
<text transform="translate(1575.15 297.82) rotate(-90)" class="ax" text-anchor="middle">Sexual dimorphism</text>
<rect x="1630.45" y="89.90" width="43.4" height="16.0" fill="#f9cbb7" stroke="#e64a40" stroke-width="1.2" rx="0.8"/>
<path d="M1633.85 97.90H1670.15" stroke="#ec2823" stroke-width="4.2"/>
<text x="1684.55" y="105.60" class="lg">Attracitveness orthogonal to Sexual dimorphism</text>
<rect x="1630.45" y="108.40" width="43.4" height="16.0" fill="#bec2e2" stroke="#4a6fbd" stroke-width="1.2" rx="0.8"/>
<path d="M1633.85 116.40H1670.15" stroke="#2150a5" stroke-width="4.2"/>
<text x="1684.55" y="124.30" class="lg">Sexual dimorphism orthogonal to Attractiveness</text>
</svg>
</body></html>
